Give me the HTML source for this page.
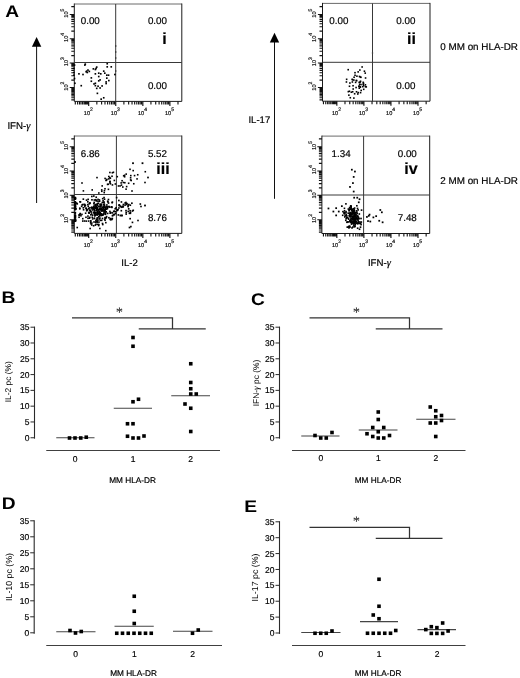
<!DOCTYPE html>
<html lang="en"><head><meta charset="utf-8"><title>Figure</title>
<style>html,body{margin:0;padding:0;background:#fff}svg{display:block;will-change:transform;transform:translateZ(0);-webkit-font-smoothing:antialiased;text-rendering:geometricPrecision}</style>
</head><body>
<svg width="520" height="678" viewBox="0 0 520 678" font-family='"Liberation Sans", Arial, Helvetica, sans-serif'>
<rect width="520" height="678" fill="#fff"/>
<text transform="translate(5.3 17.1) scale(1.17 1.03)" x="0" y="0" font-size="16.4" font-weight="bold" fill="#000">A</text>
<text transform="translate(1.4 303) scale(1.17 1.03)" x="0" y="0" font-size="16.4" font-weight="bold" fill="#000">B</text>
<text transform="translate(251 305.3) scale(1.17 1.03)" x="0" y="0" font-size="16.4" font-weight="bold" fill="#000">C</text>
<text transform="translate(1.7 508.8) scale(1.17 1.03)" x="0" y="0" font-size="16.4" font-weight="bold" fill="#000">D</text>
<text transform="translate(244.3 511.8) scale(1.17 1.03)" x="0" y="0" font-size="16.4" font-weight="bold" fill="#000">E</text>
<line x1="36.6" y1="43" x2="36.6" y2="203" stroke="#111" stroke-width="1.0"/>
<polygon points="36.6,37 31.9,46.8 41.3,46.8" fill="#000"/>
<line x1="274.5" y1="38.7" x2="274.5" y2="198.8" stroke="#111" stroke-width="1.0"/>
<polygon points="274.5,32.7 269.8,42.5 279.2,42.5" fill="#000"/>
<text x="7.4" y="128.8" font-size="9.7" text-anchor="start" font-weight="normal" fill="#000" stroke="#000" stroke-width="0.18">IFN-<tspan font-family="Liberation Serif, serif" font-style="italic" font-size="10.5">γ</tspan></text>
<text x="248.4" y="123.4" font-size="9.6" text-anchor="start" font-weight="normal" fill="#000" stroke="#000" stroke-width="0.18">IL-17</text>
<text x="129.6" y="265.5" font-size="9.6" text-anchor="middle" font-weight="normal" fill="#000" stroke="#000" stroke-width="0.18">IL-2</text>
<text x="379.4" y="265.5" font-size="9.7" text-anchor="middle" font-weight="normal" fill="#000" stroke="#000" stroke-width="0.18">IFN-<tspan font-family="Liberation Serif, serif" font-style="italic" font-size="10.5">γ</tspan></text>
<text x="440.3" y="49.9" font-size="9.85" text-anchor="start" font-weight="normal" fill="#000" stroke="#000" stroke-width="0.18">0 MM on HLA-DR</text>
<text x="440.3" y="183.9" font-size="9.85" text-anchor="start" font-weight="normal" fill="#000" stroke="#000" stroke-width="0.18">2 MM on HLA-DR</text>
<path d="M74.3 4H181.8" stroke="#6a6a6a" stroke-width="1" fill="none"/>
<path d="M74.3 3.5V101.4H181.8V3.5" stroke="#1c1c1c" stroke-width="1" fill="none"/>
<line x1="115.7" y1="4" x2="115.7" y2="101.4" stroke="#383838" stroke-width="1.0"/>
<line x1="74.3" y1="62.5" x2="181.8" y2="62.5" stroke="#383838" stroke-width="1.0"/>
<path d="M88.7 101.4v4.6 M115.75 101.4v4.6 M142.85 101.4v4.6 M169.9 101.4v4.6 M96.84 101.4v3 M101.61 101.4v3 M104.99 101.4v3 M107.61 101.4v3 M109.75 101.4v3 M111.56 101.4v3 M113.13 101.4v3 M114.51 101.4v3 M123.89 101.4v3 M128.66 101.4v3 M132.04 101.4v3 M134.66 101.4v3 M136.8 101.4v3 M138.61 101.4v3 M140.18 101.4v3 M141.56 101.4v3 M150.94 101.4v3 M155.71 101.4v3 M159.09 101.4v3 M161.71 101.4v3 M163.85 101.4v3 M165.66 101.4v3 M167.23 101.4v3 M168.61 101.4v3 M177.99 101.4v3 M87.6 101.4v3 M86.4 101.4v3 M85.3 101.4v3 M84.1 101.4v3 M82.6 101.4v3 M81 101.4v3 M79.5 101.4v3 M77.6 101.4v3 M75.3 101.4v3" stroke="#111" stroke-width="1.12" fill="none"/>
<path d="M74.3 87.5h-4.6 M74.3 63h-4.6 M74.3 38.7h-4.6 M74.3 14.5h-4.6 M74.3 80.12h-3 M74.3 75.81h-3 M74.3 72.75h-3 M74.3 70.38h-3 M74.3 68.44h-3 M74.3 66.8h-3 M74.3 65.37h-3 M74.3 64.12h-3 M74.3 55.62h-3 M74.3 51.31h-3 M74.3 48.25h-3 M74.3 45.88h-3 M74.3 43.94h-3 M74.3 42.3h-3 M74.3 40.87h-3 M74.3 39.62h-3 M74.3 31.12h-3 M74.3 26.81h-3 M74.3 23.75h-3 M74.3 21.38h-3 M74.3 19.44h-3 M74.3 17.8h-3 M74.3 16.37h-3 M74.3 15.12h-3 M74.3 6.62h-3 M74.3 88.51h-3 M74.3 89.62h-3 M74.3 90.63h-3 M74.3 91.73h-3 M74.3 93.11h-3 M74.3 94.58h-3 M74.3 95.96h-3 M74.3 97.71h-3 M74.3 99.83h-3" stroke="#111" stroke-width="1.12" fill="none"/>
<text x="83.8" y="115.3" font-size="5.6" fill="#111" stroke="#111" stroke-width="0.18">10<tspan dy="-4.2" font-size="5.1">2</tspan></text>
<text x="110.85" y="115.3" font-size="5.6" fill="#111" stroke="#111" stroke-width="0.18">10<tspan dy="-4.2" font-size="5.1">3</tspan></text>
<text x="137.95" y="115.3" font-size="5.6" fill="#111" stroke="#111" stroke-width="0.18">10<tspan dy="-4.2" font-size="5.1">4</tspan></text>
<text x="165" y="115.3" font-size="5.6" fill="#111" stroke="#111" stroke-width="0.18">10<tspan dy="-4.2" font-size="5.1">5</tspan></text>
<text x="67.9" y="91" font-size="5.6" fill="#111" stroke="#111" stroke-width="0.18" transform="rotate(-90 67.9 90.7)">10<tspan dy="-4.2" font-size="5.1">2</tspan></text>
<text x="67.9" y="66.5" font-size="5.6" fill="#111" stroke="#111" stroke-width="0.18" transform="rotate(-90 67.9 66.2)">10<tspan dy="-4.2" font-size="5.1">3</tspan></text>
<text x="67.9" y="42.2" font-size="5.6" fill="#111" stroke="#111" stroke-width="0.18" transform="rotate(-90 67.9 41.9)">10<tspan dy="-4.2" font-size="5.1">4</tspan></text>
<text x="67.9" y="18" font-size="5.6" fill="#111" stroke="#111" stroke-width="0.18" transform="rotate(-90 67.9 17.7)">10<tspan dy="-4.2" font-size="5.1">5</tspan></text>
<text x="167" y="23.8" font-size="9.8" text-anchor="end" font-weight="normal" fill="#000" stroke="#000" stroke-width="0.18">0.00</text>
<text x="167" y="88.8" font-size="9.8" text-anchor="end" font-weight="normal" fill="#000" stroke="#000" stroke-width="0.18">0.00</text>
<text x="99.8" y="23.8" font-size="9.8" text-anchor="end" font-weight="normal" fill="#000" stroke="#000" stroke-width="0.18">0.00</text>
<text x="166.7" y="43.8" font-size="16" text-anchor="end" font-weight="bold" fill="#000" stroke="#000" stroke-width="0.18">i</text>
<path d="M74.3 136H181.8" stroke="#6a6a6a" stroke-width="1" fill="none"/>
<path d="M74.3 135.5V233.4H181.8V135.5" stroke="#1c1c1c" stroke-width="1" fill="none"/>
<line x1="116.4" y1="136" x2="116.4" y2="233.4" stroke="#383838" stroke-width="1.0"/>
<line x1="74.3" y1="194.5" x2="181.8" y2="194.5" stroke="#383838" stroke-width="1.0"/>
<path d="M88.7 233.4v4.6 M115.75 233.4v4.6 M142.85 233.4v4.6 M169.9 233.4v4.6 M96.84 233.4v3 M101.61 233.4v3 M104.99 233.4v3 M107.61 233.4v3 M109.75 233.4v3 M111.56 233.4v3 M113.13 233.4v3 M114.51 233.4v3 M123.89 233.4v3 M128.66 233.4v3 M132.04 233.4v3 M134.66 233.4v3 M136.8 233.4v3 M138.61 233.4v3 M140.18 233.4v3 M141.56 233.4v3 M150.94 233.4v3 M155.71 233.4v3 M159.09 233.4v3 M161.71 233.4v3 M163.85 233.4v3 M165.66 233.4v3 M167.23 233.4v3 M168.61 233.4v3 M177.99 233.4v3 M87.6 233.4v3 M86.4 233.4v3 M85.3 233.4v3 M84.1 233.4v3 M82.6 233.4v3 M81 233.4v3 M79.5 233.4v3 M77.6 233.4v3 M75.3 233.4v3" stroke="#111" stroke-width="1.12" fill="none"/>
<path d="M74.3 219.8h-4.6 M74.3 195.3h-4.6 M74.3 171h-4.6 M74.3 146.8h-4.6 M74.3 212.42h-3 M74.3 208.11h-3 M74.3 205.05h-3 M74.3 202.68h-3 M74.3 200.74h-3 M74.3 199.1h-3 M74.3 197.67h-3 M74.3 196.42h-3 M74.3 187.92h-3 M74.3 183.61h-3 M74.3 180.55h-3 M74.3 178.18h-3 M74.3 176.24h-3 M74.3 174.6h-3 M74.3 173.17h-3 M74.3 171.92h-3 M74.3 163.42h-3 M74.3 159.11h-3 M74.3 156.05h-3 M74.3 153.68h-3 M74.3 151.74h-3 M74.3 150.1h-3 M74.3 148.67h-3 M74.3 147.42h-3 M74.3 138.92h-3 M74.3 220.81h-3 M74.3 221.92h-3 M74.3 222.93h-3 M74.3 224.03h-3 M74.3 225.41h-3 M74.3 226.88h-3 M74.3 228.26h-3 M74.3 230.01h-3 M74.3 232.13h-3" stroke="#111" stroke-width="1.12" fill="none"/>
<text x="83.8" y="247.3" font-size="5.6" fill="#111" stroke="#111" stroke-width="0.18">10<tspan dy="-4.2" font-size="5.1">2</tspan></text>
<text x="110.85" y="247.3" font-size="5.6" fill="#111" stroke="#111" stroke-width="0.18">10<tspan dy="-4.2" font-size="5.1">3</tspan></text>
<text x="137.95" y="247.3" font-size="5.6" fill="#111" stroke="#111" stroke-width="0.18">10<tspan dy="-4.2" font-size="5.1">4</tspan></text>
<text x="165" y="247.3" font-size="5.6" fill="#111" stroke="#111" stroke-width="0.18">10<tspan dy="-4.2" font-size="5.1">5</tspan></text>
<text x="67.9" y="223.3" font-size="5.6" fill="#111" stroke="#111" stroke-width="0.18" transform="rotate(-90 67.9 223)">10<tspan dy="-4.2" font-size="5.1">2</tspan></text>
<text x="67.9" y="198.8" font-size="5.6" fill="#111" stroke="#111" stroke-width="0.18" transform="rotate(-90 67.9 198.5)">10<tspan dy="-4.2" font-size="5.1">3</tspan></text>
<text x="67.9" y="174.5" font-size="5.6" fill="#111" stroke="#111" stroke-width="0.18" transform="rotate(-90 67.9 174.2)">10<tspan dy="-4.2" font-size="5.1">4</tspan></text>
<text x="67.9" y="150.3" font-size="5.6" fill="#111" stroke="#111" stroke-width="0.18" transform="rotate(-90 67.9 150)">10<tspan dy="-4.2" font-size="5.1">5</tspan></text>
<text x="167" y="157" font-size="9.8" text-anchor="end" font-weight="normal" fill="#000" stroke="#000" stroke-width="0.18">5.52</text>
<text x="167" y="221.4" font-size="9.8" text-anchor="end" font-weight="normal" fill="#000" stroke="#000" stroke-width="0.18">8.76</text>
<text x="99.8" y="157" font-size="9.8" text-anchor="end" font-weight="normal" fill="#000" stroke="#000" stroke-width="0.18">6.86</text>
<text x="169.7" y="174.1" font-size="16" text-anchor="end" font-weight="bold" fill="#000" stroke="#000" stroke-width="0.18">iii</text>
<path d="M322.5 3.4H430" stroke="#6a6a6a" stroke-width="1" fill="none"/>
<path d="M322.5 2.9V101.2H430V2.9" stroke="#1c1c1c" stroke-width="1" fill="none"/>
<line x1="372.5" y1="3.4" x2="372.5" y2="101.2" stroke="#383838" stroke-width="1.0"/>
<line x1="322.5" y1="62.3" x2="430" y2="62.3" stroke="#383838" stroke-width="1.0"/>
<path d="M336.85 101.2v4.6 M363.9 101.2v4.6 M390.95 101.2v4.6 M418 101.2v4.6 M344.99 101.2v3 M349.76 101.2v3 M353.14 101.2v3 M355.76 101.2v3 M357.9 101.2v3 M359.71 101.2v3 M361.28 101.2v3 M362.66 101.2v3 M372.04 101.2v3 M376.81 101.2v3 M380.19 101.2v3 M382.81 101.2v3 M384.95 101.2v3 M386.76 101.2v3 M388.33 101.2v3 M389.71 101.2v3 M399.09 101.2v3 M403.86 101.2v3 M407.24 101.2v3 M409.86 101.2v3 M412 101.2v3 M413.81 101.2v3 M415.38 101.2v3 M416.76 101.2v3 M426.14 101.2v3 M335.75 101.2v3 M334.55 101.2v3 M333.45 101.2v3 M332.25 101.2v3 M330.75 101.2v3 M329.15 101.2v3 M327.65 101.2v3 M325.75 101.2v3 M323.45 101.2v3" stroke="#111" stroke-width="1.12" fill="none"/>
<path d="M322.5 87.5h-4.6 M322.5 63h-4.6 M322.5 38.7h-4.6 M322.5 14.5h-4.6 M322.5 80.12h-3 M322.5 75.81h-3 M322.5 72.75h-3 M322.5 70.38h-3 M322.5 68.44h-3 M322.5 66.8h-3 M322.5 65.37h-3 M322.5 64.12h-3 M322.5 55.62h-3 M322.5 51.31h-3 M322.5 48.25h-3 M322.5 45.88h-3 M322.5 43.94h-3 M322.5 42.3h-3 M322.5 40.87h-3 M322.5 39.62h-3 M322.5 31.12h-3 M322.5 26.81h-3 M322.5 23.75h-3 M322.5 21.38h-3 M322.5 19.44h-3 M322.5 17.8h-3 M322.5 16.37h-3 M322.5 15.12h-3 M322.5 6.62h-3 M322.5 88.51h-3 M322.5 89.62h-3 M322.5 90.63h-3 M322.5 91.73h-3 M322.5 93.11h-3 M322.5 94.58h-3 M322.5 95.96h-3 M322.5 97.71h-3 M322.5 99.83h-3" stroke="#111" stroke-width="1.12" fill="none"/>
<text x="331.95" y="115.1" font-size="5.6" fill="#111" stroke="#111" stroke-width="0.18">10<tspan dy="-4.2" font-size="5.1">2</tspan></text>
<text x="359" y="115.1" font-size="5.6" fill="#111" stroke="#111" stroke-width="0.18">10<tspan dy="-4.2" font-size="5.1">3</tspan></text>
<text x="386.05" y="115.1" font-size="5.6" fill="#111" stroke="#111" stroke-width="0.18">10<tspan dy="-4.2" font-size="5.1">4</tspan></text>
<text x="413.1" y="115.1" font-size="5.6" fill="#111" stroke="#111" stroke-width="0.18">10<tspan dy="-4.2" font-size="5.1">5</tspan></text>
<text x="316.1" y="91" font-size="5.6" fill="#111" stroke="#111" stroke-width="0.18" transform="rotate(-90 316.1 90.7)">10<tspan dy="-4.2" font-size="5.1">2</tspan></text>
<text x="316.1" y="66.5" font-size="5.6" fill="#111" stroke="#111" stroke-width="0.18" transform="rotate(-90 316.1 66.2)">10<tspan dy="-4.2" font-size="5.1">3</tspan></text>
<text x="316.1" y="42.2" font-size="5.6" fill="#111" stroke="#111" stroke-width="0.18" transform="rotate(-90 316.1 41.9)">10<tspan dy="-4.2" font-size="5.1">4</tspan></text>
<text x="316.1" y="18" font-size="5.6" fill="#111" stroke="#111" stroke-width="0.18" transform="rotate(-90 316.1 17.7)">10<tspan dy="-4.2" font-size="5.1">5</tspan></text>
<text x="415.4" y="24" font-size="9.8" text-anchor="end" font-weight="normal" fill="#000" stroke="#000" stroke-width="0.18">0.00</text>
<text x="415.4" y="88.8" font-size="9.8" text-anchor="end" font-weight="normal" fill="#000" stroke="#000" stroke-width="0.18">0.00</text>
<text x="348.4" y="24" font-size="9.8" text-anchor="end" font-weight="normal" fill="#000" stroke="#000" stroke-width="0.18">0.00</text>
<text x="416" y="44.2" font-size="16" text-anchor="end" font-weight="bold" fill="#000" stroke="#000" stroke-width="0.18">ii</text>
<path d="M321.9 136.1H429.7" stroke="#6a6a6a" stroke-width="1" fill="none"/>
<path d="M321.9 135.6V233.5H429.7V135.6" stroke="#1c1c1c" stroke-width="1" fill="none"/>
<line x1="363.6" y1="136.1" x2="363.6" y2="233.5" stroke="#383838" stroke-width="1.0"/>
<line x1="321.9" y1="195" x2="429.7" y2="195" stroke="#383838" stroke-width="1.0"/>
<path d="M336.85 233.5v4.6 M363.9 233.5v4.6 M390.95 233.5v4.6 M418 233.5v4.6 M344.99 233.5v3 M349.76 233.5v3 M353.14 233.5v3 M355.76 233.5v3 M357.9 233.5v3 M359.71 233.5v3 M361.28 233.5v3 M362.66 233.5v3 M372.04 233.5v3 M376.81 233.5v3 M380.19 233.5v3 M382.81 233.5v3 M384.95 233.5v3 M386.76 233.5v3 M388.33 233.5v3 M389.71 233.5v3 M399.09 233.5v3 M403.86 233.5v3 M407.24 233.5v3 M409.86 233.5v3 M412 233.5v3 M413.81 233.5v3 M415.38 233.5v3 M416.76 233.5v3 M426.14 233.5v3 M335.75 233.5v3 M334.55 233.5v3 M333.45 233.5v3 M332.25 233.5v3 M330.75 233.5v3 M329.15 233.5v3 M327.65 233.5v3 M325.75 233.5v3 M323.45 233.5v3" stroke="#111" stroke-width="1.12" fill="none"/>
<path d="M321.9 219.8h-4.6 M321.9 195.3h-4.6 M321.9 171h-4.6 M321.9 146.8h-4.6 M321.9 212.42h-3 M321.9 208.11h-3 M321.9 205.05h-3 M321.9 202.68h-3 M321.9 200.74h-3 M321.9 199.1h-3 M321.9 197.67h-3 M321.9 196.42h-3 M321.9 187.92h-3 M321.9 183.61h-3 M321.9 180.55h-3 M321.9 178.18h-3 M321.9 176.24h-3 M321.9 174.6h-3 M321.9 173.17h-3 M321.9 171.92h-3 M321.9 163.42h-3 M321.9 159.11h-3 M321.9 156.05h-3 M321.9 153.68h-3 M321.9 151.74h-3 M321.9 150.1h-3 M321.9 148.67h-3 M321.9 147.42h-3 M321.9 138.92h-3 M321.9 220.81h-3 M321.9 221.92h-3 M321.9 222.93h-3 M321.9 224.03h-3 M321.9 225.41h-3 M321.9 226.88h-3 M321.9 228.26h-3 M321.9 230.01h-3 M321.9 232.13h-3" stroke="#111" stroke-width="1.12" fill="none"/>
<text x="331.95" y="247.4" font-size="5.6" fill="#111" stroke="#111" stroke-width="0.18">10<tspan dy="-4.2" font-size="5.1">2</tspan></text>
<text x="359" y="247.4" font-size="5.6" fill="#111" stroke="#111" stroke-width="0.18">10<tspan dy="-4.2" font-size="5.1">3</tspan></text>
<text x="386.05" y="247.4" font-size="5.6" fill="#111" stroke="#111" stroke-width="0.18">10<tspan dy="-4.2" font-size="5.1">4</tspan></text>
<text x="413.1" y="247.4" font-size="5.6" fill="#111" stroke="#111" stroke-width="0.18">10<tspan dy="-4.2" font-size="5.1">5</tspan></text>
<text x="315.5" y="223.3" font-size="5.6" fill="#111" stroke="#111" stroke-width="0.18" transform="rotate(-90 315.5 223)">10<tspan dy="-4.2" font-size="5.1">2</tspan></text>
<text x="315.5" y="198.8" font-size="5.6" fill="#111" stroke="#111" stroke-width="0.18" transform="rotate(-90 315.5 198.5)">10<tspan dy="-4.2" font-size="5.1">3</tspan></text>
<text x="315.5" y="174.5" font-size="5.6" fill="#111" stroke="#111" stroke-width="0.18" transform="rotate(-90 315.5 174.2)">10<tspan dy="-4.2" font-size="5.1">4</tspan></text>
<text x="315.5" y="150.3" font-size="5.6" fill="#111" stroke="#111" stroke-width="0.18" transform="rotate(-90 315.5 150)">10<tspan dy="-4.2" font-size="5.1">5</tspan></text>
<text x="416.8" y="156.8" font-size="9.8" text-anchor="end" font-weight="normal" fill="#000" stroke="#000" stroke-width="0.18">0.00</text>
<text x="416.8" y="221.2" font-size="9.8" text-anchor="end" font-weight="normal" fill="#000" stroke="#000" stroke-width="0.18">7.48</text>
<text x="350.6" y="157" font-size="9.8" text-anchor="end" font-weight="normal" fill="#000" stroke="#000" stroke-width="0.18">1.34</text>
<text x="417.6" y="174.3" font-size="16" text-anchor="end" font-weight="bold" fill="#000" stroke="#000" stroke-width="0.18">iv</text>
<rect x="84.46" y="63.33" width="1.6500000000000001" height="1.6500000000000001" fill="#000"/>
<rect x="84.05" y="64.27" width="1.6500000000000001" height="1.6500000000000001" fill="#000"/>
<rect x="106.4" y="62.92" width="1.6500000000000001" height="1.6500000000000001" fill="#000"/>
<rect x="106.4" y="66.02" width="1.6500000000000001" height="1.6500000000000001" fill="#000"/>
<rect x="110.43" y="66.02" width="1.6500000000000001" height="1.6500000000000001" fill="#000"/>
<rect x="95.9" y="66.29" width="1.6500000000000001" height="1.6500000000000001" fill="#000"/>
<rect x="95.22" y="67.63" width="1.6500000000000001" height="1.6500000000000001" fill="#000"/>
<rect x="92.53" y="68.04" width="1.6500000000000001" height="1.6500000000000001" fill="#000"/>
<rect x="94.55" y="68.71" width="1.6500000000000001" height="1.6500000000000001" fill="#000"/>
<rect x="87.15" y="69.25" width="1.6500000000000001" height="1.6500000000000001" fill="#000"/>
<rect x="85.8" y="70.33" width="1.6500000000000001" height="1.6500000000000001" fill="#000"/>
<rect x="88.5" y="70.59" width="1.6500000000000001" height="1.6500000000000001" fill="#000"/>
<rect x="86.48" y="71.67" width="1.6500000000000001" height="1.6500000000000001" fill="#000"/>
<rect x="85.4" y="71" width="1.6500000000000001" height="1.6500000000000001" fill="#000"/>
<rect x="78.13" y="73.02" width="1.6500000000000001" height="1.6500000000000001" fill="#000"/>
<rect x="82.17" y="73.69" width="1.6500000000000001" height="1.6500000000000001" fill="#000"/>
<rect x="94.55" y="73.02" width="1.6500000000000001" height="1.6500000000000001" fill="#000"/>
<rect x="97.92" y="72.34" width="1.6500000000000001" height="1.6500000000000001" fill="#000"/>
<rect x="99.94" y="73.02" width="1.6500000000000001" height="1.6500000000000001" fill="#000"/>
<rect x="102.9" y="70.33" width="1.6500000000000001" height="1.6500000000000001" fill="#000"/>
<rect x="103.97" y="72.34" width="1.6500000000000001" height="1.6500000000000001" fill="#000"/>
<rect x="105.99" y="74.36" width="1.6500000000000001" height="1.6500000000000001" fill="#000"/>
<rect x="107.74" y="74.36" width="1.6500000000000001" height="1.6500000000000001" fill="#000"/>
<rect x="114.07" y="73.69" width="1.6500000000000001" height="1.6500000000000001" fill="#000"/>
<rect x="90.51" y="77.06" width="1.6500000000000001" height="1.6500000000000001" fill="#000"/>
<rect x="97.92" y="75.71" width="1.6500000000000001" height="1.6500000000000001" fill="#000"/>
<rect x="105.99" y="77.32" width="1.6500000000000001" height="1.6500000000000001" fill="#000"/>
<rect x="90.51" y="80.42" width="1.6500000000000001" height="1.6500000000000001" fill="#000"/>
<rect x="99.26" y="79.07" width="1.6500000000000001" height="1.6500000000000001" fill="#000"/>
<rect x="97.92" y="80.02" width="1.6500000000000001" height="1.6500000000000001" fill="#000"/>
<rect x="108.01" y="79.75" width="1.6500000000000001" height="1.6500000000000001" fill="#000"/>
<rect x="105.32" y="81.09" width="1.6500000000000001" height="1.6500000000000001" fill="#000"/>
<rect x="94.55" y="82.44" width="1.6500000000000001" height="1.6500000000000001" fill="#000"/>
<rect x="93.21" y="83.11" width="1.6500000000000001" height="1.6500000000000001" fill="#000"/>
<rect x="105.32" y="82.71" width="1.6500000000000001" height="1.6500000000000001" fill="#000"/>
<rect x="80.42" y="84.86" width="1.6500000000000001" height="1.6500000000000001" fill="#000"/>
<rect x="94.55" y="84.86" width="1.6500000000000001" height="1.6500000000000001" fill="#000"/>
<rect x="97.24" y="85.4" width="1.6500000000000001" height="1.6500000000000001" fill="#000"/>
<rect x="101.28" y="85.13" width="1.6500000000000001" height="1.6500000000000001" fill="#000"/>
<rect x="95.9" y="87.55" width="1.6500000000000001" height="1.6500000000000001" fill="#000"/>
<rect x="99.26" y="87.15" width="1.6500000000000001" height="1.6500000000000001" fill="#000"/>
<rect x="96.57" y="92.53" width="1.6500000000000001" height="1.6500000000000001" fill="#000"/>
<rect x="102.9" y="96.97" width="1.6500000000000001" height="1.6500000000000001" fill="#000"/>
<rect x="100.34" y="98.32" width="1.6500000000000001" height="1.6500000000000001" fill="#000"/>
<rect x="73.69" y="64.27" width="1.6500000000000001" height="1.6500000000000001" fill="#000"/>
<rect x="73.02" y="67.63" width="1.6500000000000001" height="1.6500000000000001" fill="#000"/>
<rect x="73.02" y="71.67" width="1.6500000000000001" height="1.6500000000000001" fill="#000"/>
<rect x="73.02" y="74.36" width="1.6500000000000001" height="1.6500000000000001" fill="#000"/>
<rect x="73.69" y="77.73" width="1.6500000000000001" height="1.6500000000000001" fill="#000"/>
<rect x="74.09" y="82.44" width="1.6500000000000001" height="1.6500000000000001" fill="#000"/>
<rect x="115" y="45.3" width="1.4000000000000001" height="1.4000000000000001" fill="#333"/>
<rect x="115" y="51.3" width="1.4000000000000001" height="1.4000000000000001" fill="#333"/>
<rect x="115" y="57.3" width="1.4000000000000001" height="1.4000000000000001" fill="#333"/>
<rect x="115" y="70.3" width="1.4000000000000001" height="1.4000000000000001" fill="#333"/>
<rect x="355.29" y="86.74" width="1.6" height="1.6" fill="#000"/>
<rect x="355.46" y="79.73" width="1.6" height="1.6" fill="#000"/>
<rect x="351.58" y="81.19" width="1.6" height="1.6" fill="#000"/>
<rect x="362.82" y="84.84" width="1.6" height="1.6" fill="#000"/>
<rect x="362.4" y="83.42" width="1.6" height="1.6" fill="#000"/>
<rect x="358.87" y="83.43" width="1.6" height="1.6" fill="#000"/>
<rect x="347.54" y="90.85" width="1.6" height="1.6" fill="#000"/>
<rect x="359.49" y="85.99" width="1.6" height="1.6" fill="#000"/>
<rect x="347.4" y="68.89" width="1.6" height="1.6" fill="#000"/>
<rect x="351.81" y="79" width="1.6" height="1.6" fill="#000"/>
<rect x="358.38" y="81.55" width="1.6" height="1.6" fill="#000"/>
<rect x="359.57" y="76.33" width="1.6" height="1.6" fill="#000"/>
<rect x="358.4" y="85.27" width="1.6" height="1.6" fill="#000"/>
<rect x="353.06" y="97.29" width="1.6" height="1.6" fill="#000"/>
<rect x="359.76" y="91.85" width="1.6" height="1.6" fill="#000"/>
<rect x="353.29" y="76.47" width="1.6" height="1.6" fill="#000"/>
<rect x="354.81" y="81.59" width="1.6" height="1.6" fill="#000"/>
<rect x="360.18" y="83.76" width="1.6" height="1.6" fill="#000"/>
<rect x="354.24" y="74.49" width="1.6" height="1.6" fill="#000"/>
<rect x="353.84" y="92.97" width="1.6" height="1.6" fill="#000"/>
<rect x="352.26" y="84.96" width="1.6" height="1.6" fill="#000"/>
<rect x="359.05" y="69.24" width="1.6" height="1.6" fill="#000"/>
<rect x="356.97" y="93.21" width="1.6" height="1.6" fill="#000"/>
<rect x="345.62" y="81.19" width="1.6" height="1.6" fill="#000"/>
<rect x="356.12" y="75.38" width="1.6" height="1.6" fill="#000"/>
<rect x="359.44" y="81.25" width="1.6" height="1.6" fill="#000"/>
<rect x="348.64" y="90.45" width="1.6" height="1.6" fill="#000"/>
<rect x="360.38" y="89.63" width="1.6" height="1.6" fill="#000"/>
<rect x="364.62" y="84.04" width="1.6" height="1.6" fill="#000"/>
<rect x="357.36" y="71.11" width="1.6" height="1.6" fill="#000"/>
<rect x="360.08" y="76.5" width="1.6" height="1.6" fill="#000"/>
<rect x="354.21" y="71.89" width="1.6" height="1.6" fill="#000"/>
<rect x="351.38" y="78.53" width="1.6" height="1.6" fill="#000"/>
<rect x="348.68" y="85.46" width="1.6" height="1.6" fill="#000"/>
<rect x="364.64" y="85.87" width="1.6" height="1.6" fill="#000"/>
<rect x="358.67" y="75.67" width="1.6" height="1.6" fill="#000"/>
<rect x="350.54" y="91.42" width="1.6" height="1.6" fill="#000"/>
<rect x="362.76" y="82.59" width="1.6" height="1.6" fill="#000"/>
<rect x="358.05" y="85.66" width="1.6" height="1.6" fill="#000"/>
<rect x="365.47" y="86.08" width="1.6" height="1.6" fill="#000"/>
<rect x="359.55" y="86.39" width="1.6" height="1.6" fill="#000"/>
<rect x="348.07" y="94.37" width="1.6" height="1.6" fill="#000"/>
<rect x="361.95" y="85.87" width="1.6" height="1.6" fill="#000"/>
<rect x="345.84" y="78.52" width="1.6" height="1.6" fill="#000"/>
<rect x="361.33" y="66.17" width="1.6" height="1.6" fill="#000"/>
<rect x="355.69" y="90.98" width="1.6" height="1.6" fill="#000"/>
<rect x="349.49" y="96.93" width="1.6" height="1.6" fill="#000"/>
<rect x="359.74" y="80.46" width="1.6" height="1.6" fill="#000"/>
<rect x="358.49" y="87.42" width="1.6" height="1.6" fill="#000"/>
<rect x="357.36" y="91.79" width="1.6" height="1.6" fill="#000"/>
<rect x="353.06" y="79.25" width="1.6" height="1.6" fill="#000"/>
<rect x="362.43" y="81.54" width="1.6" height="1.6" fill="#000"/>
<rect x="351.86" y="90.95" width="1.6" height="1.6" fill="#000"/>
<rect x="364.76" y="77.19" width="1.6" height="1.6" fill="#000"/>
<rect x="349.11" y="82.23" width="1.6" height="1.6" fill="#000"/>
<rect x="355.88" y="79.81" width="1.6" height="1.6" fill="#000"/>
<rect x="364.43" y="72.32" width="1.6" height="1.6" fill="#000"/>
<rect x="363.63" y="70.4" width="1.6" height="1.6" fill="#000"/>
<rect x="352.37" y="88.21" width="1.6" height="1.6" fill="#000"/>
<rect x="362.91" y="88.51" width="1.6" height="1.6" fill="#000"/>
<rect x="371.85" y="52.35" width="1.3" height="1.3" fill="#444"/>
<rect x="100.49" y="208.56" width="1.6500000000000001" height="1.6500000000000001" fill="#000"/>
<rect x="98.64" y="211.24" width="1.6500000000000001" height="1.6500000000000001" fill="#000"/>
<rect x="95.48" y="209.4" width="1.6500000000000001" height="1.6500000000000001" fill="#000"/>
<rect x="102.67" y="207.68" width="1.6500000000000001" height="1.6500000000000001" fill="#000"/>
<rect x="104.51" y="211.18" width="1.6500000000000001" height="1.6500000000000001" fill="#000"/>
<rect x="116.48" y="209.69" width="1.6500000000000001" height="1.6500000000000001" fill="#000"/>
<rect x="93.07" y="205.37" width="1.6500000000000001" height="1.6500000000000001" fill="#000"/>
<rect x="97.05" y="213.4" width="1.6500000000000001" height="1.6500000000000001" fill="#000"/>
<rect x="93.94" y="210.07" width="1.6500000000000001" height="1.6500000000000001" fill="#000"/>
<rect x="86.39" y="209.19" width="1.6500000000000001" height="1.6500000000000001" fill="#000"/>
<rect x="101" y="209.15" width="1.6500000000000001" height="1.6500000000000001" fill="#000"/>
<rect x="93.04" y="211.74" width="1.6500000000000001" height="1.6500000000000001" fill="#000"/>
<rect x="99.88" y="204.44" width="1.6500000000000001" height="1.6500000000000001" fill="#000"/>
<rect x="120.5" y="209.88" width="1.6500000000000001" height="1.6500000000000001" fill="#000"/>
<rect x="91.85" y="207.06" width="1.6500000000000001" height="1.6500000000000001" fill="#000"/>
<rect x="95.01" y="207.29" width="1.6500000000000001" height="1.6500000000000001" fill="#000"/>
<rect x="106.86" y="200.43" width="1.6500000000000001" height="1.6500000000000001" fill="#000"/>
<rect x="96.53" y="213.59" width="1.6500000000000001" height="1.6500000000000001" fill="#000"/>
<rect x="105.39" y="216.92" width="1.6500000000000001" height="1.6500000000000001" fill="#000"/>
<rect x="80.84" y="205.48" width="1.6500000000000001" height="1.6500000000000001" fill="#000"/>
<rect x="93.9" y="211.54" width="1.6500000000000001" height="1.6500000000000001" fill="#000"/>
<rect x="107.63" y="198.7" width="1.6500000000000001" height="1.6500000000000001" fill="#000"/>
<rect x="103.73" y="198.42" width="1.6500000000000001" height="1.6500000000000001" fill="#000"/>
<rect x="98.86" y="215.08" width="1.6500000000000001" height="1.6500000000000001" fill="#000"/>
<rect x="95.74" y="208.86" width="1.6500000000000001" height="1.6500000000000001" fill="#000"/>
<rect x="104.83" y="208.55" width="1.6500000000000001" height="1.6500000000000001" fill="#000"/>
<rect x="96.33" y="217.18" width="1.6500000000000001" height="1.6500000000000001" fill="#000"/>
<rect x="107.24" y="205.85" width="1.6500000000000001" height="1.6500000000000001" fill="#000"/>
<rect x="105.96" y="206.03" width="1.6500000000000001" height="1.6500000000000001" fill="#000"/>
<rect x="98.45" y="212.05" width="1.6500000000000001" height="1.6500000000000001" fill="#000"/>
<rect x="99.31" y="211.63" width="1.6500000000000001" height="1.6500000000000001" fill="#000"/>
<rect x="82.51" y="198.32" width="1.6500000000000001" height="1.6500000000000001" fill="#000"/>
<rect x="103.08" y="201.7" width="1.6500000000000001" height="1.6500000000000001" fill="#000"/>
<rect x="87.32" y="198.56" width="1.6500000000000001" height="1.6500000000000001" fill="#000"/>
<rect x="109.33" y="212.3" width="1.6500000000000001" height="1.6500000000000001" fill="#000"/>
<rect x="111.32" y="201.86" width="1.6500000000000001" height="1.6500000000000001" fill="#000"/>
<rect x="97.18" y="200.61" width="1.6500000000000001" height="1.6500000000000001" fill="#000"/>
<rect x="104.53" y="217.53" width="1.6500000000000001" height="1.6500000000000001" fill="#000"/>
<rect x="88.63" y="217.35" width="1.6500000000000001" height="1.6500000000000001" fill="#000"/>
<rect x="106.66" y="206.57" width="1.6500000000000001" height="1.6500000000000001" fill="#000"/>
<rect x="78.24" y="216.4" width="1.6500000000000001" height="1.6500000000000001" fill="#000"/>
<rect x="96.25" y="203.94" width="1.6500000000000001" height="1.6500000000000001" fill="#000"/>
<rect x="101.01" y="210.22" width="1.6500000000000001" height="1.6500000000000001" fill="#000"/>
<rect x="111.56" y="201.35" width="1.6500000000000001" height="1.6500000000000001" fill="#000"/>
<rect x="108.08" y="216.9" width="1.6500000000000001" height="1.6500000000000001" fill="#000"/>
<rect x="111.12" y="206.56" width="1.6500000000000001" height="1.6500000000000001" fill="#000"/>
<rect x="90.03" y="213.99" width="1.6500000000000001" height="1.6500000000000001" fill="#000"/>
<rect x="98.28" y="208.44" width="1.6500000000000001" height="1.6500000000000001" fill="#000"/>
<rect x="110.85" y="206.04" width="1.6500000000000001" height="1.6500000000000001" fill="#000"/>
<rect x="79.38" y="212.75" width="1.6500000000000001" height="1.6500000000000001" fill="#000"/>
<rect x="100.22" y="203.89" width="1.6500000000000001" height="1.6500000000000001" fill="#000"/>
<rect x="97.08" y="212.84" width="1.6500000000000001" height="1.6500000000000001" fill="#000"/>
<rect x="97.93" y="215.9" width="1.6500000000000001" height="1.6500000000000001" fill="#000"/>
<rect x="96.59" y="214.13" width="1.6500000000000001" height="1.6500000000000001" fill="#000"/>
<rect x="111.49" y="217.66" width="1.6500000000000001" height="1.6500000000000001" fill="#000"/>
<rect x="90.73" y="213.13" width="1.6500000000000001" height="1.6500000000000001" fill="#000"/>
<rect x="79.17" y="200.96" width="1.6500000000000001" height="1.6500000000000001" fill="#000"/>
<rect x="78.33" y="214.3" width="1.6500000000000001" height="1.6500000000000001" fill="#000"/>
<rect x="85.35" y="207.6" width="1.6500000000000001" height="1.6500000000000001" fill="#000"/>
<rect x="95.33" y="207.5" width="1.6500000000000001" height="1.6500000000000001" fill="#000"/>
<rect x="91.5" y="209.12" width="1.6500000000000001" height="1.6500000000000001" fill="#000"/>
<rect x="114.37" y="207.95" width="1.6500000000000001" height="1.6500000000000001" fill="#000"/>
<rect x="102.27" y="213.88" width="1.6500000000000001" height="1.6500000000000001" fill="#000"/>
<rect x="95.27" y="199.86" width="1.6500000000000001" height="1.6500000000000001" fill="#000"/>
<rect x="91.84" y="214.33" width="1.6500000000000001" height="1.6500000000000001" fill="#000"/>
<rect x="81.37" y="203.97" width="1.6500000000000001" height="1.6500000000000001" fill="#000"/>
<rect x="106.85" y="212.59" width="1.6500000000000001" height="1.6500000000000001" fill="#000"/>
<rect x="97.25" y="212.67" width="1.6500000000000001" height="1.6500000000000001" fill="#000"/>
<rect x="98.77" y="200.37" width="1.6500000000000001" height="1.6500000000000001" fill="#000"/>
<rect x="82.16" y="203.71" width="1.6500000000000001" height="1.6500000000000001" fill="#000"/>
<rect x="106.03" y="204.17" width="1.6500000000000001" height="1.6500000000000001" fill="#000"/>
<rect x="88.51" y="202.9" width="1.6500000000000001" height="1.6500000000000001" fill="#000"/>
<rect x="82.47" y="206.95" width="1.6500000000000001" height="1.6500000000000001" fill="#000"/>
<rect x="85.85" y="209.93" width="1.6500000000000001" height="1.6500000000000001" fill="#000"/>
<rect x="91.02" y="195.63" width="1.6500000000000001" height="1.6500000000000001" fill="#000"/>
<rect x="104.13" y="205.97" width="1.6500000000000001" height="1.6500000000000001" fill="#000"/>
<rect x="75.77" y="202.25" width="1.6500000000000001" height="1.6500000000000001" fill="#000"/>
<rect x="99.97" y="204.83" width="1.6500000000000001" height="1.6500000000000001" fill="#000"/>
<rect x="104.66" y="212.31" width="1.6500000000000001" height="1.6500000000000001" fill="#000"/>
<rect x="103.57" y="209.7" width="1.6500000000000001" height="1.6500000000000001" fill="#000"/>
<rect x="109.98" y="211.77" width="1.6500000000000001" height="1.6500000000000001" fill="#000"/>
<rect x="105.78" y="215.79" width="1.6500000000000001" height="1.6500000000000001" fill="#000"/>
<rect x="94.32" y="204.76" width="1.6500000000000001" height="1.6500000000000001" fill="#000"/>
<rect x="115.8" y="196.77" width="1.6500000000000001" height="1.6500000000000001" fill="#000"/>
<rect x="101.68" y="222.7" width="1.6500000000000001" height="1.6500000000000001" fill="#000"/>
<rect x="88.27" y="211.95" width="1.6500000000000001" height="1.6500000000000001" fill="#000"/>
<rect x="115.28" y="206.93" width="1.6500000000000001" height="1.6500000000000001" fill="#000"/>
<rect x="102.56" y="213.27" width="1.6500000000000001" height="1.6500000000000001" fill="#000"/>
<rect x="88.48" y="207.12" width="1.6500000000000001" height="1.6500000000000001" fill="#000"/>
<rect x="99.99" y="212.79" width="1.6500000000000001" height="1.6500000000000001" fill="#000"/>
<rect x="96.84" y="206.46" width="1.6500000000000001" height="1.6500000000000001" fill="#000"/>
<rect x="87.42" y="205.45" width="1.6500000000000001" height="1.6500000000000001" fill="#000"/>
<rect x="105.74" y="208.31" width="1.6500000000000001" height="1.6500000000000001" fill="#000"/>
<rect x="88.99" y="202.46" width="1.6500000000000001" height="1.6500000000000001" fill="#000"/>
<rect x="103.14" y="210.66" width="1.6500000000000001" height="1.6500000000000001" fill="#000"/>
<rect x="113.34" y="210.33" width="1.6500000000000001" height="1.6500000000000001" fill="#000"/>
<rect x="96.53" y="210.91" width="1.6500000000000001" height="1.6500000000000001" fill="#000"/>
<rect x="78.51" y="214.08" width="1.6500000000000001" height="1.6500000000000001" fill="#000"/>
<rect x="100.29" y="203.32" width="1.6500000000000001" height="1.6500000000000001" fill="#000"/>
<rect x="109.9" y="218.89" width="1.6500000000000001" height="1.6500000000000001" fill="#000"/>
<rect x="83.71" y="203.54" width="1.6500000000000001" height="1.6500000000000001" fill="#000"/>
<rect x="99.97" y="208.81" width="1.6500000000000001" height="1.6500000000000001" fill="#000"/>
<rect x="93.35" y="201.63" width="1.6500000000000001" height="1.6500000000000001" fill="#000"/>
<rect x="117.53" y="214.11" width="1.6500000000000001" height="1.6500000000000001" fill="#000"/>
<rect x="85.71" y="199.34" width="1.6500000000000001" height="1.6500000000000001" fill="#000"/>
<rect x="113.53" y="213.81" width="1.6500000000000001" height="1.6500000000000001" fill="#000"/>
<rect x="114.66" y="212.7" width="1.6500000000000001" height="1.6500000000000001" fill="#000"/>
<rect x="88.8" y="209.29" width="1.6500000000000001" height="1.6500000000000001" fill="#000"/>
<rect x="76.44" y="203.04" width="1.6500000000000001" height="1.6500000000000001" fill="#000"/>
<rect x="96.61" y="210.92" width="1.6500000000000001" height="1.6500000000000001" fill="#000"/>
<rect x="90.19" y="206.9" width="1.6500000000000001" height="1.6500000000000001" fill="#000"/>
<rect x="101.58" y="210.01" width="1.6500000000000001" height="1.6500000000000001" fill="#000"/>
<rect x="103.3" y="208.97" width="1.6500000000000001" height="1.6500000000000001" fill="#000"/>
<rect x="94.07" y="212.57" width="1.6500000000000001" height="1.6500000000000001" fill="#000"/>
<rect x="97.65" y="202.55" width="1.6500000000000001" height="1.6500000000000001" fill="#000"/>
<rect x="91.17" y="207.67" width="1.6500000000000001" height="1.6500000000000001" fill="#000"/>
<rect x="96.12" y="208.65" width="1.6500000000000001" height="1.6500000000000001" fill="#000"/>
<rect x="97.17" y="208.77" width="1.6500000000000001" height="1.6500000000000001" fill="#000"/>
<rect x="95.89" y="199.87" width="1.6500000000000001" height="1.6500000000000001" fill="#000"/>
<rect x="101.22" y="214.21" width="1.6500000000000001" height="1.6500000000000001" fill="#000"/>
<rect x="101.35" y="206.5" width="1.6500000000000001" height="1.6500000000000001" fill="#000"/>
<rect x="101.46" y="201.69" width="1.6500000000000001" height="1.6500000000000001" fill="#000"/>
<rect x="78.97" y="208.04" width="1.6500000000000001" height="1.6500000000000001" fill="#000"/>
<rect x="88.24" y="212.26" width="1.6500000000000001" height="1.6500000000000001" fill="#000"/>
<rect x="87.2" y="217.46" width="1.6500000000000001" height="1.6500000000000001" fill="#000"/>
<rect x="93.51" y="199.18" width="1.6500000000000001" height="1.6500000000000001" fill="#000"/>
<rect x="89.85" y="210.9" width="1.6500000000000001" height="1.6500000000000001" fill="#000"/>
<rect x="101.94" y="208.77" width="1.6500000000000001" height="1.6500000000000001" fill="#000"/>
<rect x="111.42" y="212.06" width="1.6500000000000001" height="1.6500000000000001" fill="#000"/>
<rect x="96.97" y="211.37" width="1.6500000000000001" height="1.6500000000000001" fill="#000"/>
<rect x="113.06" y="213.7" width="1.6500000000000001" height="1.6500000000000001" fill="#000"/>
<rect x="107" y="200.96" width="1.6500000000000001" height="1.6500000000000001" fill="#000"/>
<rect x="95.75" y="212.2" width="1.6500000000000001" height="1.6500000000000001" fill="#000"/>
<rect x="94.33" y="214.3" width="1.6500000000000001" height="1.6500000000000001" fill="#000"/>
<rect x="102.9" y="213.31" width="1.6500000000000001" height="1.6500000000000001" fill="#000"/>
<rect x="95.14" y="223.46" width="1.6500000000000001" height="1.6500000000000001" fill="#000"/>
<rect x="109.08" y="206.34" width="1.6500000000000001" height="1.6500000000000001" fill="#000"/>
<rect x="98.04" y="223.77" width="1.6500000000000001" height="1.6500000000000001" fill="#000"/>
<rect x="93.88" y="213.09" width="1.6500000000000001" height="1.6500000000000001" fill="#000"/>
<rect x="106.59" y="207.72" width="1.6500000000000001" height="1.6500000000000001" fill="#000"/>
<rect x="85.97" y="208.84" width="1.6500000000000001" height="1.6500000000000001" fill="#000"/>
<rect x="100.63" y="214.68" width="1.6500000000000001" height="1.6500000000000001" fill="#000"/>
<rect x="104.69" y="207.83" width="1.6500000000000001" height="1.6500000000000001" fill="#000"/>
<rect x="105.37" y="211.02" width="1.6500000000000001" height="1.6500000000000001" fill="#000"/>
<rect x="99.15" y="208.02" width="1.6500000000000001" height="1.6500000000000001" fill="#000"/>
<rect x="94.84" y="211.93" width="1.6500000000000001" height="1.6500000000000001" fill="#000"/>
<rect x="87.05" y="203.78" width="1.6500000000000001" height="1.6500000000000001" fill="#000"/>
<rect x="97.22" y="198.6" width="1.6500000000000001" height="1.6500000000000001" fill="#000"/>
<rect x="92.99" y="195.22" width="1.6500000000000001" height="1.6500000000000001" fill="#000"/>
<rect x="90.62" y="211.2" width="1.6500000000000001" height="1.6500000000000001" fill="#000"/>
<rect x="102.61" y="207.34" width="1.6500000000000001" height="1.6500000000000001" fill="#000"/>
<rect x="94.95" y="198.89" width="1.6500000000000001" height="1.6500000000000001" fill="#000"/>
<rect x="114.72" y="210.87" width="1.6500000000000001" height="1.6500000000000001" fill="#000"/>
<rect x="107.67" y="202.2" width="1.6500000000000001" height="1.6500000000000001" fill="#000"/>
<rect x="95.4" y="196.39" width="1.6500000000000001" height="1.6500000000000001" fill="#000"/>
<rect x="104.67" y="213.47" width="1.6500000000000001" height="1.6500000000000001" fill="#000"/>
<rect x="78.96" y="207.35" width="1.6500000000000001" height="1.6500000000000001" fill="#000"/>
<rect x="103.23" y="196.75" width="1.6500000000000001" height="1.6500000000000001" fill="#000"/>
<rect x="79.65" y="201.07" width="1.6500000000000001" height="1.6500000000000001" fill="#000"/>
<rect x="91.13" y="198.98" width="1.6500000000000001" height="1.6500000000000001" fill="#000"/>
<rect x="97.48" y="209.22" width="1.6500000000000001" height="1.6500000000000001" fill="#000"/>
<rect x="103.26" y="212.03" width="1.6500000000000001" height="1.6500000000000001" fill="#000"/>
<rect x="111.6" y="214.89" width="1.6500000000000001" height="1.6500000000000001" fill="#000"/>
<rect x="84.58" y="204.54" width="1.6500000000000001" height="1.6500000000000001" fill="#000"/>
<rect x="87" y="201" width="1.6500000000000001" height="1.6500000000000001" fill="#000"/>
<rect x="96.39" y="207.71" width="1.6500000000000001" height="1.6500000000000001" fill="#000"/>
<rect x="101.88" y="197.84" width="1.6500000000000001" height="1.6500000000000001" fill="#000"/>
<rect x="85.29" y="207.53" width="1.6500000000000001" height="1.6500000000000001" fill="#000"/>
<rect x="95.26" y="205.75" width="1.6500000000000001" height="1.6500000000000001" fill="#000"/>
<rect x="96.57" y="202.96" width="1.6500000000000001" height="1.6500000000000001" fill="#000"/>
<rect x="103.91" y="209.87" width="1.6500000000000001" height="1.6500000000000001" fill="#000"/>
<rect x="96.33" y="203.51" width="1.6500000000000001" height="1.6500000000000001" fill="#000"/>
<rect x="87.75" y="207.91" width="1.6500000000000001" height="1.6500000000000001" fill="#000"/>
<rect x="82.74" y="208.91" width="1.6500000000000001" height="1.6500000000000001" fill="#000"/>
<rect x="98.59" y="199.13" width="1.6500000000000001" height="1.6500000000000001" fill="#000"/>
<rect x="95.42" y="205.8" width="1.6500000000000001" height="1.6500000000000001" fill="#000"/>
<rect x="98.97" y="208.39" width="1.6500000000000001" height="1.6500000000000001" fill="#000"/>
<rect x="96.49" y="204.29" width="1.6500000000000001" height="1.6500000000000001" fill="#000"/>
<rect x="95.95" y="206.49" width="1.6500000000000001" height="1.6500000000000001" fill="#000"/>
<rect x="100.35" y="207.5" width="1.6500000000000001" height="1.6500000000000001" fill="#000"/>
<rect x="93.06" y="202.88" width="1.6500000000000001" height="1.6500000000000001" fill="#000"/>
<rect x="94.81" y="204.6" width="1.6500000000000001" height="1.6500000000000001" fill="#000"/>
<rect x="91.12" y="206.35" width="1.6500000000000001" height="1.6500000000000001" fill="#000"/>
<rect x="94.22" y="206.97" width="1.6500000000000001" height="1.6500000000000001" fill="#000"/>
<rect x="99.29" y="205.52" width="1.6500000000000001" height="1.6500000000000001" fill="#000"/>
<rect x="108.3" y="205.77" width="1.6500000000000001" height="1.6500000000000001" fill="#000"/>
<rect x="102.18" y="207.02" width="1.6500000000000001" height="1.6500000000000001" fill="#000"/>
<rect x="102.26" y="200.02" width="1.6500000000000001" height="1.6500000000000001" fill="#000"/>
<rect x="92.92" y="207.37" width="1.6500000000000001" height="1.6500000000000001" fill="#000"/>
<rect x="99.69" y="213.22" width="1.6500000000000001" height="1.6500000000000001" fill="#000"/>
<rect x="98.29" y="210.26" width="1.6500000000000001" height="1.6500000000000001" fill="#000"/>
<rect x="100.51" y="209.33" width="1.6500000000000001" height="1.6500000000000001" fill="#000"/>
<rect x="99.23" y="206.24" width="1.6500000000000001" height="1.6500000000000001" fill="#000"/>
<rect x="99.22" y="203.66" width="1.6500000000000001" height="1.6500000000000001" fill="#000"/>
<rect x="102.58" y="203.83" width="1.6500000000000001" height="1.6500000000000001" fill="#000"/>
<rect x="97.92" y="212.61" width="1.6500000000000001" height="1.6500000000000001" fill="#000"/>
<rect x="95.56" y="206.73" width="1.6500000000000001" height="1.6500000000000001" fill="#000"/>
<rect x="102.49" y="206.75" width="1.6500000000000001" height="1.6500000000000001" fill="#000"/>
<rect x="92.64" y="207.4" width="1.6500000000000001" height="1.6500000000000001" fill="#000"/>
<rect x="99.59" y="208.66" width="1.6500000000000001" height="1.6500000000000001" fill="#000"/>
<rect x="92.81" y="211.58" width="1.6500000000000001" height="1.6500000000000001" fill="#000"/>
<rect x="105.01" y="206.73" width="1.6500000000000001" height="1.6500000000000001" fill="#000"/>
<rect x="98.02" y="205.48" width="1.6500000000000001" height="1.6500000000000001" fill="#000"/>
<rect x="103.75" y="204.7" width="1.6500000000000001" height="1.6500000000000001" fill="#000"/>
<rect x="100.05" y="205.33" width="1.6500000000000001" height="1.6500000000000001" fill="#000"/>
<rect x="93.2" y="208.69" width="1.6500000000000001" height="1.6500000000000001" fill="#000"/>
<rect x="103.34" y="206.65" width="1.6500000000000001" height="1.6500000000000001" fill="#000"/>
<rect x="93.29" y="208.95" width="1.6500000000000001" height="1.6500000000000001" fill="#000"/>
<rect x="96.43" y="207.54" width="1.6500000000000001" height="1.6500000000000001" fill="#000"/>
<rect x="104.29" y="209.84" width="1.6500000000000001" height="1.6500000000000001" fill="#000"/>
<rect x="94.08" y="213.07" width="1.6500000000000001" height="1.6500000000000001" fill="#000"/>
<rect x="96.69" y="208.88" width="1.6500000000000001" height="1.6500000000000001" fill="#000"/>
<rect x="93.44" y="206.55" width="1.6500000000000001" height="1.6500000000000001" fill="#000"/>
<rect x="87.93" y="211.68" width="1.6500000000000001" height="1.6500000000000001" fill="#000"/>
<rect x="103.5" y="203.27" width="1.6500000000000001" height="1.6500000000000001" fill="#000"/>
<rect x="89.15" y="202.14" width="1.6500000000000001" height="1.6500000000000001" fill="#000"/>
<rect x="102.55" y="205.39" width="1.6500000000000001" height="1.6500000000000001" fill="#000"/>
<rect x="93.59" y="212.7" width="1.6" height="1.6" fill="#000"/>
<rect x="92.99" y="206.49" width="1.6" height="1.6" fill="#000"/>
<rect x="94.44" y="203.7" width="1.6" height="1.6" fill="#000"/>
<rect x="93.49" y="217.67" width="1.6" height="1.6" fill="#000"/>
<rect x="98.88" y="213.35" width="1.6" height="1.6" fill="#000"/>
<rect x="85.16" y="216.48" width="1.6" height="1.6" fill="#000"/>
<rect x="89.35" y="227.73" width="1.6" height="1.6" fill="#000"/>
<rect x="101.88" y="214.28" width="1.6" height="1.6" fill="#000"/>
<rect x="89.49" y="209.58" width="1.6" height="1.6" fill="#000"/>
<rect x="84.83" y="212.38" width="1.6" height="1.6" fill="#000"/>
<rect x="97.15" y="219.32" width="1.6" height="1.6" fill="#000"/>
<rect x="87.15" y="215.3" width="1.6" height="1.6" fill="#000"/>
<rect x="88.99" y="216.56" width="1.6" height="1.6" fill="#000"/>
<rect x="95.74" y="218.46" width="1.6" height="1.6" fill="#000"/>
<rect x="91.81" y="218.13" width="1.6" height="1.6" fill="#000"/>
<rect x="94.73" y="221.37" width="1.6" height="1.6" fill="#000"/>
<rect x="75.27" y="208.12" width="1.6" height="1.6" fill="#000"/>
<rect x="94.18" y="206.95" width="1.6" height="1.6" fill="#000"/>
<rect x="83.75" y="220.22" width="1.6" height="1.6" fill="#000"/>
<rect x="87.7" y="220.28" width="1.6" height="1.6" fill="#000"/>
<rect x="101.66" y="217.65" width="1.6" height="1.6" fill="#000"/>
<rect x="99.28" y="214.36" width="1.6" height="1.6" fill="#000"/>
<rect x="80.11" y="214.96" width="1.6" height="1.6" fill="#000"/>
<rect x="98.74" y="210.96" width="1.6" height="1.6" fill="#000"/>
<rect x="93.2" y="221.19" width="1.6" height="1.6" fill="#000"/>
<rect x="85.42" y="220.32" width="1.6" height="1.6" fill="#000"/>
<rect x="112.83" y="210.76" width="1.6" height="1.6" fill="#000"/>
<rect x="95.67" y="214" width="1.6" height="1.6" fill="#000"/>
<rect x="109.6" y="217.73" width="1.6" height="1.6" fill="#000"/>
<rect x="103.18" y="209.68" width="1.6" height="1.6" fill="#000"/>
<rect x="94.04" y="215.12" width="1.6" height="1.6" fill="#000"/>
<rect x="76.44" y="226.73" width="1.6" height="1.6" fill="#000"/>
<rect x="103.19" y="201.21" width="1.6" height="1.6" fill="#000"/>
<rect x="101.64" y="214.15" width="1.6" height="1.6" fill="#000"/>
<rect x="98.68" y="218.13" width="1.6" height="1.6" fill="#000"/>
<rect x="79.21" y="213.5" width="1.6" height="1.6" fill="#000"/>
<rect x="109.13" y="210.6" width="1.6" height="1.6" fill="#000"/>
<rect x="83.97" y="204.32" width="1.6" height="1.6" fill="#000"/>
<rect x="81.99" y="217.88" width="1.6" height="1.6" fill="#000"/>
<rect x="111.13" y="218.64" width="1.6" height="1.6" fill="#000"/>
<rect x="89.01" y="209.81" width="1.6" height="1.6" fill="#000"/>
<rect x="99.48" y="219.59" width="1.6" height="1.6" fill="#000"/>
<rect x="84.05" y="205.84" width="1.6" height="1.6" fill="#000"/>
<rect x="97.11" y="217.18" width="1.6" height="1.6" fill="#000"/>
<rect x="81.13" y="213.58" width="1.6" height="1.6" fill="#000"/>
<rect x="91.04" y="222.27" width="1.6" height="1.6" fill="#000"/>
<rect x="95.09" y="219.81" width="1.6" height="1.6" fill="#000"/>
<rect x="92.84" y="224.94" width="1.6" height="1.6" fill="#000"/>
<rect x="109.41" y="218.55" width="1.6" height="1.6" fill="#000"/>
<rect x="104.24" y="216.79" width="1.6" height="1.6" fill="#000"/>
<rect x="96.88" y="223.57" width="1.6" height="1.6" fill="#000"/>
<rect x="110.59" y="218.48" width="1.6" height="1.6" fill="#000"/>
<rect x="95.5" y="221.08" width="1.6" height="1.6" fill="#000"/>
<rect x="81.97" y="220.27" width="1.6" height="1.6" fill="#000"/>
<rect x="89.78" y="221.87" width="1.6" height="1.6" fill="#000"/>
<rect x="96.56" y="221.37" width="1.6" height="1.6" fill="#000"/>
<rect x="90.99" y="224.2" width="1.6" height="1.6" fill="#000"/>
<rect x="93.6" y="217.47" width="1.6" height="1.6" fill="#000"/>
<rect x="100.74" y="213.14" width="1.6" height="1.6" fill="#000"/>
<rect x="89.76" y="220.11" width="1.6" height="1.6" fill="#000"/>
<rect x="104.26" y="219.47" width="1.6" height="1.6" fill="#000"/>
<rect x="99.13" y="217.25" width="1.6" height="1.6" fill="#000"/>
<rect x="99.07" y="227.69" width="1.6" height="1.6" fill="#000"/>
<rect x="90.08" y="220.28" width="1.6" height="1.6" fill="#000"/>
<rect x="97.85" y="224.81" width="1.6" height="1.6" fill="#000"/>
<rect x="101.96" y="223.78" width="1.6" height="1.6" fill="#000"/>
<rect x="98.15" y="221.34" width="1.6" height="1.6" fill="#000"/>
<rect x="105.03" y="221.86" width="1.6" height="1.6" fill="#000"/>
<rect x="112.01" y="214.63" width="1.6" height="1.6" fill="#000"/>
<rect x="103.92" y="218.52" width="1.6" height="1.6" fill="#000"/>
<rect x="104.98" y="229.89" width="1.6" height="1.6" fill="#000"/>
<rect x="96.14" y="219.05" width="1.6" height="1.6" fill="#000"/>
<rect x="91.45" y="216.43" width="1.6" height="1.6" fill="#000"/>
<rect x="90.21" y="223.08" width="1.6" height="1.6" fill="#000"/>
<rect x="96.55" y="220.5" width="1.6" height="1.6" fill="#000"/>
<rect x="94.55" y="224.31" width="1.6" height="1.6" fill="#000"/>
<rect x="100.89" y="219.56" width="1.6" height="1.6" fill="#000"/>
<rect x="74.3" y="220.22" width="1.8" height="1.8" fill="#000"/>
<rect x="74.3" y="201.68" width="1.8" height="1.8" fill="#000"/>
<rect x="74.3" y="205.34" width="1.8" height="1.8" fill="#000"/>
<rect x="74.3" y="216.73" width="1.8" height="1.8" fill="#000"/>
<rect x="74.3" y="216.74" width="1.8" height="1.8" fill="#000"/>
<rect x="74.3" y="207.2" width="1.8" height="1.8" fill="#000"/>
<rect x="74.3" y="197.81" width="1.8" height="1.8" fill="#000"/>
<rect x="74.3" y="208.2" width="1.8" height="1.8" fill="#000"/>
<rect x="74.3" y="205.73" width="1.8" height="1.8" fill="#000"/>
<rect x="74.3" y="219.13" width="1.8" height="1.8" fill="#000"/>
<rect x="74.3" y="201.33" width="1.8" height="1.8" fill="#000"/>
<rect x="74.3" y="205.52" width="1.8" height="1.8" fill="#000"/>
<rect x="74.3" y="218.58" width="1.8" height="1.8" fill="#000"/>
<rect x="74.3" y="197.34" width="1.8" height="1.8" fill="#000"/>
<rect x="74.3" y="206.66" width="1.8" height="1.8" fill="#000"/>
<rect x="74.3" y="216.49" width="1.8" height="1.8" fill="#000"/>
<rect x="74.3" y="215.38" width="1.8" height="1.8" fill="#000"/>
<rect x="74.3" y="197.6" width="1.8" height="1.8" fill="#000"/>
<rect x="74.3" y="197.45" width="1.8" height="1.8" fill="#000"/>
<rect x="74.3" y="198.13" width="1.8" height="1.8" fill="#000"/>
<rect x="74.3" y="219.14" width="1.8" height="1.8" fill="#000"/>
<rect x="74.3" y="202.9" width="1.8" height="1.8" fill="#000"/>
<rect x="74.3" y="214.91" width="1.8" height="1.8" fill="#000"/>
<rect x="74.3" y="218.61" width="1.8" height="1.8" fill="#000"/>
<rect x="74.3" y="204.91" width="1.8" height="1.8" fill="#000"/>
<rect x="74.3" y="203.27" width="1.8" height="1.8" fill="#000"/>
<rect x="74.3" y="220.06" width="1.8" height="1.8" fill="#000"/>
<rect x="74.3" y="211.72" width="1.8" height="1.8" fill="#000"/>
<rect x="74.3" y="203.02" width="1.8" height="1.8" fill="#000"/>
<rect x="74.3" y="214.16" width="1.8" height="1.8" fill="#000"/>
<rect x="74.3" y="204.35" width="1.8" height="1.8" fill="#000"/>
<rect x="74.3" y="203.35" width="1.8" height="1.8" fill="#000"/>
<rect x="74.3" y="196.69" width="1.8" height="1.8" fill="#000"/>
<rect x="74.3" y="215.11" width="1.8" height="1.8" fill="#000"/>
<rect x="74.3" y="219.05" width="1.8" height="1.8" fill="#000"/>
<rect x="74.3" y="212.13" width="1.8" height="1.8" fill="#000"/>
<rect x="74.3" y="219.71" width="1.8" height="1.8" fill="#000"/>
<rect x="74.3" y="197.19" width="1.8" height="1.8" fill="#000"/>
<rect x="74.3" y="202.33" width="1.8" height="1.8" fill="#000"/>
<rect x="74.3" y="208.24" width="1.8" height="1.8" fill="#000"/>
<rect x="74.3" y="220.04" width="1.8" height="1.8" fill="#000"/>
<rect x="74.3" y="219.97" width="1.8" height="1.8" fill="#000"/>
<rect x="74.3" y="206.07" width="1.8" height="1.8" fill="#000"/>
<rect x="74.3" y="202.75" width="1.8" height="1.8" fill="#000"/>
<rect x="74.3" y="207.13" width="1.8" height="1.8" fill="#000"/>
<rect x="74.3" y="208.69" width="1.8" height="1.8" fill="#000"/>
<rect x="74.3" y="219.34" width="1.8" height="1.8" fill="#000"/>
<rect x="74.3" y="201.08" width="1.8" height="1.8" fill="#000"/>
<rect x="74.1" y="161.1" width="1.8" height="1.8" fill="#000"/>
<rect x="111.59" y="171.97" width="1.6" height="1.6" fill="#000"/>
<rect x="112.62" y="171.47" width="1.6" height="1.6" fill="#000"/>
<rect x="106.07" y="178.6" width="1.6" height="1.6" fill="#000"/>
<rect x="107.39" y="183.45" width="1.6" height="1.6" fill="#000"/>
<rect x="109.57" y="177.47" width="1.6" height="1.6" fill="#000"/>
<rect x="111.65" y="184.14" width="1.6" height="1.6" fill="#000"/>
<rect x="109.23" y="180.61" width="1.6" height="1.6" fill="#000"/>
<rect x="103.42" y="191.79" width="1.6" height="1.6" fill="#000"/>
<rect x="109.02" y="180.91" width="1.6" height="1.6" fill="#000"/>
<rect x="113.55" y="179.63" width="1.6" height="1.6" fill="#000"/>
<rect x="107.98" y="175.71" width="1.6" height="1.6" fill="#000"/>
<rect x="109.66" y="183" width="1.6" height="1.6" fill="#000"/>
<rect x="104.3" y="177.65" width="1.6" height="1.6" fill="#000"/>
<rect x="109.09" y="171.7" width="1.6" height="1.6" fill="#000"/>
<rect x="108.03" y="178.08" width="1.6" height="1.6" fill="#000"/>
<rect x="111.23" y="175.45" width="1.6" height="1.6" fill="#000"/>
<rect x="105.23" y="179.65" width="1.6" height="1.6" fill="#000"/>
<rect x="108.98" y="176.72" width="1.6" height="1.6" fill="#000"/>
<rect x="109.25" y="182.1" width="1.6" height="1.6" fill="#000"/>
<rect x="114.53" y="183.18" width="1.6" height="1.6" fill="#000"/>
<rect x="105.67" y="179.33" width="1.6" height="1.6" fill="#000"/>
<rect x="98.03" y="192.19" width="1.6" height="1.6" fill="#000"/>
<rect x="91.4" y="189.1" width="1.6" height="1.6" fill="#000"/>
<rect x="101.38" y="185.12" width="1.6" height="1.6" fill="#000"/>
<rect x="100.91" y="189.12" width="1.6" height="1.6" fill="#000"/>
<rect x="82.59" y="190.08" width="1.6" height="1.6" fill="#000"/>
<rect x="106.76" y="183.6" width="1.6" height="1.6" fill="#000"/>
<rect x="103.66" y="189.83" width="1.6" height="1.6" fill="#000"/>
<rect x="101" y="190.52" width="1.6" height="1.6" fill="#000"/>
<rect x="107.63" y="188.53" width="1.6" height="1.6" fill="#000"/>
<rect x="104.19" y="187.97" width="1.6" height="1.6" fill="#000"/>
<rect x="81.2" y="182.2" width="1.6" height="1.6" fill="#000"/>
<rect x="96.2" y="176.8" width="1.6" height="1.6" fill="#000"/>
<rect x="132.39" y="169.82" width="1.6" height="1.6" fill="#000"/>
<rect x="125.28" y="188.36" width="1.6" height="1.6" fill="#000"/>
<rect x="129.99" y="174.81" width="1.6" height="1.6" fill="#000"/>
<rect x="116.47" y="175.87" width="1.6" height="1.6" fill="#000"/>
<rect x="127.85" y="182.46" width="1.6" height="1.6" fill="#000"/>
<rect x="129.82" y="179.13" width="1.6" height="1.6" fill="#000"/>
<rect x="125.85" y="185.78" width="1.6" height="1.6" fill="#000"/>
<rect x="122.88" y="174.99" width="1.6" height="1.6" fill="#000"/>
<rect x="133.75" y="174.8" width="1.6" height="1.6" fill="#000"/>
<rect x="123.83" y="174.48" width="1.6" height="1.6" fill="#000"/>
<rect x="124.02" y="181.91" width="1.6" height="1.6" fill="#000"/>
<rect x="129.21" y="168.52" width="1.6" height="1.6" fill="#000"/>
<rect x="129.82" y="176.98" width="1.6" height="1.6" fill="#000"/>
<rect x="117.7" y="185.18" width="1.6" height="1.6" fill="#000"/>
<rect x="123.82" y="175.99" width="1.6" height="1.6" fill="#000"/>
<rect x="132.96" y="182.95" width="1.6" height="1.6" fill="#000"/>
<rect x="120.35" y="182.11" width="1.6" height="1.6" fill="#000"/>
<rect x="122" y="186.23" width="1.6" height="1.6" fill="#000"/>
<rect x="120.7" y="184.31" width="1.6" height="1.6" fill="#000"/>
<rect x="122.51" y="181.7" width="1.6" height="1.6" fill="#000"/>
<rect x="125.41" y="173.31" width="1.6" height="1.6" fill="#000"/>
<rect x="144.49" y="170.92" width="1.6" height="1.6" fill="#000"/>
<rect x="121.29" y="179.93" width="1.6" height="1.6" fill="#000"/>
<rect x="136.92" y="173.96" width="1.6" height="1.6" fill="#000"/>
<rect x="136.25" y="178.1" width="1.6" height="1.6" fill="#000"/>
<rect x="119.27" y="185.14" width="1.6" height="1.6" fill="#000"/>
<rect x="130.42" y="179.68" width="1.6" height="1.6" fill="#000"/>
<rect x="132.1" y="162.3" width="1.8" height="1.8" fill="#000"/>
<rect x="141.6" y="162.3" width="1.8" height="1.8" fill="#000"/>
<rect x="147.15" y="176.65" width="1.7" height="1.7" fill="#000"/>
<rect x="144.2" y="181.7" width="1.6" height="1.6" fill="#000"/>
<rect x="131.2" y="190.2" width="1.6" height="1.6" fill="#000"/>
<rect x="129.58" y="212.47" width="1.6500000000000001" height="1.6500000000000001" fill="#000"/>
<rect x="125.19" y="209.79" width="1.6500000000000001" height="1.6500000000000001" fill="#000"/>
<rect x="139.49" y="203.21" width="1.6500000000000001" height="1.6500000000000001" fill="#000"/>
<rect x="122.2" y="205.96" width="1.6500000000000001" height="1.6500000000000001" fill="#000"/>
<rect x="129.49" y="204.37" width="1.6500000000000001" height="1.6500000000000001" fill="#000"/>
<rect x="131.06" y="202.38" width="1.6500000000000001" height="1.6500000000000001" fill="#000"/>
<rect x="125.78" y="202.93" width="1.6500000000000001" height="1.6500000000000001" fill="#000"/>
<rect x="125.12" y="201.66" width="1.6500000000000001" height="1.6500000000000001" fill="#000"/>
<rect x="126" y="202.77" width="1.6500000000000001" height="1.6500000000000001" fill="#000"/>
<rect x="125.38" y="213.25" width="1.6500000000000001" height="1.6500000000000001" fill="#000"/>
<rect x="118.31" y="204.05" width="1.6500000000000001" height="1.6500000000000001" fill="#000"/>
<rect x="127.41" y="210.54" width="1.6500000000000001" height="1.6500000000000001" fill="#000"/>
<rect x="131.63" y="210.17" width="1.6500000000000001" height="1.6500000000000001" fill="#000"/>
<rect x="124.25" y="204.28" width="1.6500000000000001" height="1.6500000000000001" fill="#000"/>
<rect x="125.76" y="203.62" width="1.6500000000000001" height="1.6500000000000001" fill="#000"/>
<rect x="118.03" y="199.67" width="1.6500000000000001" height="1.6500000000000001" fill="#000"/>
<rect x="120.59" y="201.14" width="1.6500000000000001" height="1.6500000000000001" fill="#000"/>
<rect x="117.22" y="208.92" width="1.6500000000000001" height="1.6500000000000001" fill="#000"/>
<rect x="116.32" y="208.87" width="1.6500000000000001" height="1.6500000000000001" fill="#000"/>
<rect x="118.09" y="207.17" width="1.6500000000000001" height="1.6500000000000001" fill="#000"/>
<rect x="132.42" y="209.49" width="1.6500000000000001" height="1.6500000000000001" fill="#000"/>
<rect x="119.79" y="205.48" width="1.6500000000000001" height="1.6500000000000001" fill="#000"/>
<rect x="120.53" y="206.44" width="1.6500000000000001" height="1.6500000000000001" fill="#000"/>
<rect x="121.36" y="206.06" width="1.6500000000000001" height="1.6500000000000001" fill="#000"/>
<rect x="128.58" y="212.46" width="1.6500000000000001" height="1.6500000000000001" fill="#000"/>
<rect x="129.61" y="211.48" width="1.6500000000000001" height="1.6500000000000001" fill="#000"/>
<rect x="122.45" y="205.65" width="1.6500000000000001" height="1.6500000000000001" fill="#000"/>
<rect x="122.55" y="203.65" width="1.6500000000000001" height="1.6500000000000001" fill="#000"/>
<rect x="122.18" y="205.54" width="1.6500000000000001" height="1.6500000000000001" fill="#000"/>
<rect x="118.33" y="204.65" width="1.6500000000000001" height="1.6500000000000001" fill="#000"/>
<rect x="127.27" y="205.77" width="1.6500000000000001" height="1.6500000000000001" fill="#000"/>
<rect x="130.05" y="225.75" width="1.6500000000000001" height="1.6500000000000001" fill="#000"/>
<rect x="127.29" y="204.83" width="1.6500000000000001" height="1.6500000000000001" fill="#000"/>
<rect x="129.29" y="209.92" width="1.6500000000000001" height="1.6500000000000001" fill="#000"/>
<rect x="124.31" y="202.18" width="1.6500000000000001" height="1.6500000000000001" fill="#000"/>
<rect x="128.01" y="203.74" width="1.6500000000000001" height="1.6500000000000001" fill="#000"/>
<rect x="125.51" y="202.99" width="1.6500000000000001" height="1.6500000000000001" fill="#000"/>
<rect x="125.39" y="211.63" width="1.6500000000000001" height="1.6500000000000001" fill="#000"/>
<rect x="118.92" y="204.72" width="1.6500000000000001" height="1.6500000000000001" fill="#000"/>
<rect x="127.88" y="208.04" width="1.6500000000000001" height="1.6500000000000001" fill="#000"/>
<rect x="131.63" y="221.57" width="1.6500000000000001" height="1.6500000000000001" fill="#000"/>
<rect x="129.31" y="217.86" width="1.6500000000000001" height="1.6500000000000001" fill="#000"/>
<rect x="144.1" y="204.6" width="1.8" height="1.8" fill="#000"/>
<rect x="140.2" y="205.7" width="1.6" height="1.6" fill="#000"/>
<rect x="137.2" y="219.7" width="1.6" height="1.6" fill="#000"/>
<rect x="128.65" y="226.65" width="1.7" height="1.7" fill="#000"/>
<rect x="119.55" y="214.55" width="1.9000000000000001" height="1.9000000000000001" fill="#000"/>
<rect x="121.05" y="214.55" width="1.9000000000000001" height="1.9000000000000001" fill="#000"/>
<rect x="356.16" y="222.38" width="1.6500000000000001" height="1.6500000000000001" fill="#000"/>
<rect x="350" y="212.61" width="1.6500000000000001" height="1.6500000000000001" fill="#000"/>
<rect x="356.03" y="211.34" width="1.6500000000000001" height="1.6500000000000001" fill="#000"/>
<rect x="345.22" y="210.79" width="1.6500000000000001" height="1.6500000000000001" fill="#000"/>
<rect x="349.73" y="212.51" width="1.6500000000000001" height="1.6500000000000001" fill="#000"/>
<rect x="353.4" y="212.38" width="1.6500000000000001" height="1.6500000000000001" fill="#000"/>
<rect x="357.72" y="216.67" width="1.6500000000000001" height="1.6500000000000001" fill="#000"/>
<rect x="348.13" y="225.55" width="1.6500000000000001" height="1.6500000000000001" fill="#000"/>
<rect x="350.14" y="218.59" width="1.6500000000000001" height="1.6500000000000001" fill="#000"/>
<rect x="352.42" y="215.16" width="1.6500000000000001" height="1.6500000000000001" fill="#000"/>
<rect x="353.77" y="212.74" width="1.6500000000000001" height="1.6500000000000001" fill="#000"/>
<rect x="345.1" y="203.04" width="1.6500000000000001" height="1.6500000000000001" fill="#000"/>
<rect x="347.41" y="212.32" width="1.6500000000000001" height="1.6500000000000001" fill="#000"/>
<rect x="352.38" y="217.53" width="1.6500000000000001" height="1.6500000000000001" fill="#000"/>
<rect x="354.7" y="217.94" width="1.6500000000000001" height="1.6500000000000001" fill="#000"/>
<rect x="349.3" y="212.64" width="1.6500000000000001" height="1.6500000000000001" fill="#000"/>
<rect x="344" y="216.09" width="1.6500000000000001" height="1.6500000000000001" fill="#000"/>
<rect x="354.41" y="220.56" width="1.6500000000000001" height="1.6500000000000001" fill="#000"/>
<rect x="351.99" y="216.06" width="1.6500000000000001" height="1.6500000000000001" fill="#000"/>
<rect x="356.22" y="217.27" width="1.6500000000000001" height="1.6500000000000001" fill="#000"/>
<rect x="355.43" y="220.9" width="1.6500000000000001" height="1.6500000000000001" fill="#000"/>
<rect x="353.33" y="225.54" width="1.6500000000000001" height="1.6500000000000001" fill="#000"/>
<rect x="350.18" y="214.88" width="1.6500000000000001" height="1.6500000000000001" fill="#000"/>
<rect x="349.24" y="212.07" width="1.6500000000000001" height="1.6500000000000001" fill="#000"/>
<rect x="358.7" y="228.43" width="1.6500000000000001" height="1.6500000000000001" fill="#000"/>
<rect x="352.57" y="220.81" width="1.6500000000000001" height="1.6500000000000001" fill="#000"/>
<rect x="357.18" y="222.34" width="1.6500000000000001" height="1.6500000000000001" fill="#000"/>
<rect x="357.3" y="209.09" width="1.6500000000000001" height="1.6500000000000001" fill="#000"/>
<rect x="349.92" y="220.07" width="1.6500000000000001" height="1.6500000000000001" fill="#000"/>
<rect x="358.22" y="217.84" width="1.6500000000000001" height="1.6500000000000001" fill="#000"/>
<rect x="349.04" y="214.91" width="1.6500000000000001" height="1.6500000000000001" fill="#000"/>
<rect x="349.83" y="211.68" width="1.6500000000000001" height="1.6500000000000001" fill="#000"/>
<rect x="358.48" y="213.17" width="1.6500000000000001" height="1.6500000000000001" fill="#000"/>
<rect x="357.21" y="219.33" width="1.6500000000000001" height="1.6500000000000001" fill="#000"/>
<rect x="350.03" y="219.8" width="1.6500000000000001" height="1.6500000000000001" fill="#000"/>
<rect x="358.96" y="221.16" width="1.6500000000000001" height="1.6500000000000001" fill="#000"/>
<rect x="357.52" y="217.8" width="1.6500000000000001" height="1.6500000000000001" fill="#000"/>
<rect x="354.54" y="215.89" width="1.6500000000000001" height="1.6500000000000001" fill="#000"/>
<rect x="354.18" y="225.5" width="1.6500000000000001" height="1.6500000000000001" fill="#000"/>
<rect x="346.75" y="216.77" width="1.6500000000000001" height="1.6500000000000001" fill="#000"/>
<rect x="353.44" y="213.52" width="1.6500000000000001" height="1.6500000000000001" fill="#000"/>
<rect x="351.24" y="222.21" width="1.6500000000000001" height="1.6500000000000001" fill="#000"/>
<rect x="360.48" y="221.2" width="1.6500000000000001" height="1.6500000000000001" fill="#000"/>
<rect x="353.78" y="207.25" width="1.6500000000000001" height="1.6500000000000001" fill="#000"/>
<rect x="360.19" y="217.67" width="1.6500000000000001" height="1.6500000000000001" fill="#000"/>
<rect x="352.34" y="210.02" width="1.6500000000000001" height="1.6500000000000001" fill="#000"/>
<rect x="352.25" y="210.16" width="1.6500000000000001" height="1.6500000000000001" fill="#000"/>
<rect x="352.76" y="220.16" width="1.6500000000000001" height="1.6500000000000001" fill="#000"/>
<rect x="352.6" y="218.96" width="1.6500000000000001" height="1.6500000000000001" fill="#000"/>
<rect x="349.07" y="226.33" width="1.6500000000000001" height="1.6500000000000001" fill="#000"/>
<rect x="349.86" y="205.54" width="1.6500000000000001" height="1.6500000000000001" fill="#000"/>
<rect x="351.72" y="212.29" width="1.6500000000000001" height="1.6500000000000001" fill="#000"/>
<rect x="348.44" y="214.9" width="1.6500000000000001" height="1.6500000000000001" fill="#000"/>
<rect x="353.64" y="209.61" width="1.6500000000000001" height="1.6500000000000001" fill="#000"/>
<rect x="351.92" y="226.31" width="1.6500000000000001" height="1.6500000000000001" fill="#000"/>
<rect x="355.21" y="216.2" width="1.6500000000000001" height="1.6500000000000001" fill="#000"/>
<rect x="352.99" y="216.41" width="1.6500000000000001" height="1.6500000000000001" fill="#000"/>
<rect x="352.28" y="221.86" width="1.6500000000000001" height="1.6500000000000001" fill="#000"/>
<rect x="352.39" y="211.48" width="1.6500000000000001" height="1.6500000000000001" fill="#000"/>
<rect x="355.08" y="213.27" width="1.6500000000000001" height="1.6500000000000001" fill="#000"/>
<rect x="348.29" y="209.98" width="1.6500000000000001" height="1.6500000000000001" fill="#000"/>
<rect x="344.96" y="219.51" width="1.6500000000000001" height="1.6500000000000001" fill="#000"/>
<rect x="349.92" y="205.22" width="1.6500000000000001" height="1.6500000000000001" fill="#000"/>
<rect x="346.54" y="221.13" width="1.6500000000000001" height="1.6500000000000001" fill="#000"/>
<rect x="349.37" y="214.83" width="1.6500000000000001" height="1.6500000000000001" fill="#000"/>
<rect x="353.8" y="225.86" width="1.6500000000000001" height="1.6500000000000001" fill="#000"/>
<rect x="360.24" y="223.78" width="1.6500000000000001" height="1.6500000000000001" fill="#000"/>
<rect x="353.05" y="218.35" width="1.6500000000000001" height="1.6500000000000001" fill="#000"/>
<rect x="359.68" y="226.32" width="1.6500000000000001" height="1.6500000000000001" fill="#000"/>
<rect x="351.23" y="220.1" width="1.6500000000000001" height="1.6500000000000001" fill="#000"/>
<rect x="353.62" y="217.51" width="1.6500000000000001" height="1.6500000000000001" fill="#000"/>
<rect x="350.47" y="208.69" width="1.6500000000000001" height="1.6500000000000001" fill="#000"/>
<rect x="350.34" y="207.29" width="1.6500000000000001" height="1.6500000000000001" fill="#000"/>
<rect x="357.37" y="220.61" width="1.6500000000000001" height="1.6500000000000001" fill="#000"/>
<rect x="347.65" y="226.11" width="1.6500000000000001" height="1.6500000000000001" fill="#000"/>
<rect x="356.04" y="204.96" width="1.6500000000000001" height="1.6500000000000001" fill="#000"/>
<rect x="359.84" y="222.36" width="1.6500000000000001" height="1.6500000000000001" fill="#000"/>
<rect x="360.73" y="209.3" width="1.6500000000000001" height="1.6500000000000001" fill="#000"/>
<rect x="354.6" y="219.88" width="1.6500000000000001" height="1.6500000000000001" fill="#000"/>
<rect x="353.28" y="218.27" width="1.6500000000000001" height="1.6500000000000001" fill="#000"/>
<rect x="356.69" y="207.61" width="1.6500000000000001" height="1.6500000000000001" fill="#000"/>
<rect x="347.51" y="208.25" width="1.6500000000000001" height="1.6500000000000001" fill="#000"/>
<rect x="350.24" y="213.3" width="1.6500000000000001" height="1.6500000000000001" fill="#000"/>
<rect x="353.94" y="218.88" width="1.6500000000000001" height="1.6500000000000001" fill="#000"/>
<rect x="352.6" y="212.84" width="1.6500000000000001" height="1.6500000000000001" fill="#000"/>
<rect x="350.71" y="223.27" width="1.6500000000000001" height="1.6500000000000001" fill="#000"/>
<rect x="355.53" y="217.82" width="1.6500000000000001" height="1.6500000000000001" fill="#000"/>
<rect x="351.18" y="227.11" width="1.6500000000000001" height="1.6500000000000001" fill="#000"/>
<rect x="350.1" y="221.33" width="1.6500000000000001" height="1.6500000000000001" fill="#000"/>
<rect x="357.09" y="215.48" width="1.6500000000000001" height="1.6500000000000001" fill="#000"/>
<rect x="355.78" y="210.03" width="1.6500000000000001" height="1.6500000000000001" fill="#000"/>
<rect x="356.53" y="218.45" width="1.6500000000000001" height="1.6500000000000001" fill="#000"/>
<rect x="346.13" y="221.46" width="1.6500000000000001" height="1.6500000000000001" fill="#000"/>
<rect x="348.91" y="225.38" width="1.6500000000000001" height="1.6500000000000001" fill="#000"/>
<rect x="349.76" y="216.12" width="1.6500000000000001" height="1.6500000000000001" fill="#000"/>
<rect x="353.61" y="215.05" width="1.6500000000000001" height="1.6500000000000001" fill="#000"/>
<rect x="353.51" y="213.63" width="1.6500000000000001" height="1.6500000000000001" fill="#000"/>
<rect x="355.16" y="217.21" width="1.6500000000000001" height="1.6500000000000001" fill="#000"/>
<rect x="357.12" y="217.38" width="1.6500000000000001" height="1.6500000000000001" fill="#000"/>
<rect x="345.34" y="217.79" width="1.6500000000000001" height="1.6500000000000001" fill="#000"/>
<rect x="354.34" y="224.03" width="1.6500000000000001" height="1.6500000000000001" fill="#000"/>
<rect x="348.14" y="227.08" width="1.6500000000000001" height="1.6500000000000001" fill="#000"/>
<rect x="351.89" y="221.53" width="1.6500000000000001" height="1.6500000000000001" fill="#000"/>
<rect x="351.01" y="210.03" width="1.6500000000000001" height="1.6500000000000001" fill="#000"/>
<rect x="356.86" y="222.98" width="1.6500000000000001" height="1.6500000000000001" fill="#000"/>
<rect x="358.63" y="222.66" width="1.6500000000000001" height="1.6500000000000001" fill="#000"/>
<rect x="350.18" y="206.54" width="1.6500000000000001" height="1.6500000000000001" fill="#000"/>
<rect x="349.87" y="212.85" width="1.6500000000000001" height="1.6500000000000001" fill="#000"/>
<rect x="349.21" y="220.9" width="1.6500000000000001" height="1.6500000000000001" fill="#000"/>
<rect x="353.79" y="215.45" width="1.6500000000000001" height="1.6500000000000001" fill="#000"/>
<rect x="353.17" y="216.24" width="1.6500000000000001" height="1.6500000000000001" fill="#000"/>
<rect x="353.33" y="221.99" width="1.6500000000000001" height="1.6500000000000001" fill="#000"/>
<rect x="356.31" y="212.78" width="1.6500000000000001" height="1.6500000000000001" fill="#000"/>
<rect x="346.45" y="226.31" width="1.6500000000000001" height="1.6500000000000001" fill="#000"/>
<rect x="352.93" y="224.25" width="1.6500000000000001" height="1.6500000000000001" fill="#000"/>
<rect x="345.9" y="215.06" width="1.6500000000000001" height="1.6500000000000001" fill="#000"/>
<rect x="352.58" y="207.95" width="1.6500000000000001" height="1.6500000000000001" fill="#000"/>
<rect x="350.41" y="221.81" width="1.6500000000000001" height="1.6500000000000001" fill="#000"/>
<rect x="356.79" y="227.38" width="1.6500000000000001" height="1.6500000000000001" fill="#000"/>
<rect x="349.02" y="208.21" width="1.6500000000000001" height="1.6500000000000001" fill="#000"/>
<rect x="354.56" y="223.19" width="1.6500000000000001" height="1.6500000000000001" fill="#000"/>
<rect x="353.25" y="208.85" width="1.6500000000000001" height="1.6500000000000001" fill="#000"/>
<rect x="355.6" y="222.25" width="1.6500000000000001" height="1.6500000000000001" fill="#000"/>
<rect x="354.69" y="214.06" width="1.6500000000000001" height="1.6500000000000001" fill="#000"/>
<rect x="353.69" y="222.24" width="1.6500000000000001" height="1.6500000000000001" fill="#000"/>
<rect x="350.24" y="205.38" width="1.6500000000000001" height="1.6500000000000001" fill="#000"/>
<rect x="353.79" y="220.25" width="1.6500000000000001" height="1.6500000000000001" fill="#000"/>
<rect x="352.53" y="222.87" width="1.6500000000000001" height="1.6500000000000001" fill="#000"/>
<rect x="351.07" y="215.86" width="1.6500000000000001" height="1.6500000000000001" fill="#000"/>
<rect x="351.74" y="218.35" width="1.6500000000000001" height="1.6500000000000001" fill="#000"/>
<rect x="356.3" y="215.22" width="1.6500000000000001" height="1.6500000000000001" fill="#000"/>
<rect x="357.41" y="221.99" width="1.6500000000000001" height="1.6500000000000001" fill="#000"/>
<rect x="354.37" y="218.41" width="1.6500000000000001" height="1.6500000000000001" fill="#000"/>
<rect x="356.72" y="215.49" width="1.6500000000000001" height="1.6500000000000001" fill="#000"/>
<rect x="352.21" y="212.14" width="1.6500000000000001" height="1.6500000000000001" fill="#000"/>
<rect x="353.61" y="221.29" width="1.6500000000000001" height="1.6500000000000001" fill="#000"/>
<rect x="353.75" y="217.78" width="1.6500000000000001" height="1.6500000000000001" fill="#000"/>
<rect x="351.99" y="216.82" width="1.6500000000000001" height="1.6500000000000001" fill="#000"/>
<rect x="349.05" y="220.16" width="1.6500000000000001" height="1.6500000000000001" fill="#000"/>
<rect x="351.49" y="211.98" width="1.6500000000000001" height="1.6500000000000001" fill="#000"/>
<rect x="350.67" y="213.04" width="1.6500000000000001" height="1.6500000000000001" fill="#000"/>
<rect x="354.53" y="220.2" width="1.6500000000000001" height="1.6500000000000001" fill="#000"/>
<rect x="349.22" y="219.69" width="1.6500000000000001" height="1.6500000000000001" fill="#000"/>
<rect x="354.61" y="213.97" width="1.6500000000000001" height="1.6500000000000001" fill="#000"/>
<rect x="348.91" y="213.34" width="1.6500000000000001" height="1.6500000000000001" fill="#000"/>
<rect x="350.95" y="217.48" width="1.6500000000000001" height="1.6500000000000001" fill="#000"/>
<rect x="351.62" y="208.47" width="1.6500000000000001" height="1.6500000000000001" fill="#000"/>
<rect x="353.04" y="210.34" width="1.6500000000000001" height="1.6500000000000001" fill="#000"/>
<rect x="354.65" y="211.59" width="1.6500000000000001" height="1.6500000000000001" fill="#000"/>
<rect x="350.81" y="212.93" width="1.6500000000000001" height="1.6500000000000001" fill="#000"/>
<rect x="351.17" y="221.11" width="1.6500000000000001" height="1.6500000000000001" fill="#000"/>
<rect x="354.52" y="218.46" width="1.6500000000000001" height="1.6500000000000001" fill="#000"/>
<rect x="353.24" y="210.29" width="1.6500000000000001" height="1.6500000000000001" fill="#000"/>
<rect x="351.23" y="214.08" width="1.6500000000000001" height="1.6500000000000001" fill="#000"/>
<rect x="350.13" y="218.11" width="1.6500000000000001" height="1.6500000000000001" fill="#000"/>
<rect x="350.7" y="213.48" width="1.6500000000000001" height="1.6500000000000001" fill="#000"/>
<rect x="349.97" y="208.36" width="1.6500000000000001" height="1.6500000000000001" fill="#000"/>
<rect x="353.9" y="221.23" width="1.6500000000000001" height="1.6500000000000001" fill="#000"/>
<rect x="352.89" y="212.46" width="1.6500000000000001" height="1.6500000000000001" fill="#000"/>
<rect x="345.98" y="216.83" width="1.6500000000000001" height="1.6500000000000001" fill="#000"/>
<rect x="355.39" y="217.3" width="1.6500000000000001" height="1.6500000000000001" fill="#000"/>
<rect x="354.7" y="221.79" width="1.6500000000000001" height="1.6500000000000001" fill="#000"/>
<rect x="355.18" y="214.5" width="1.6500000000000001" height="1.6500000000000001" fill="#000"/>
<rect x="355" y="219.12" width="1.6500000000000001" height="1.6500000000000001" fill="#000"/>
<rect x="348.79" y="214.63" width="1.6500000000000001" height="1.6500000000000001" fill="#000"/>
<rect x="349.06" y="215.76" width="1.6500000000000001" height="1.6500000000000001" fill="#000"/>
<rect x="353.86" y="212.12" width="1.6500000000000001" height="1.6500000000000001" fill="#000"/>
<rect x="347.54" y="221.11" width="1.6500000000000001" height="1.6500000000000001" fill="#000"/>
<rect x="353.38" y="221.77" width="1.6500000000000001" height="1.6500000000000001" fill="#000"/>
<rect x="349.3" y="220.21" width="1.6500000000000001" height="1.6500000000000001" fill="#000"/>
<rect x="345.15" y="211.97" width="1.6" height="1.6" fill="#000"/>
<rect x="345.43" y="214.82" width="1.6" height="1.6" fill="#000"/>
<rect x="351.39" y="212.78" width="1.6" height="1.6" fill="#000"/>
<rect x="343.85" y="213.04" width="1.6" height="1.6" fill="#000"/>
<rect x="347.52" y="217.71" width="1.6" height="1.6" fill="#000"/>
<rect x="351.89" y="210.84" width="1.6" height="1.6" fill="#000"/>
<rect x="347.95" y="218.35" width="1.6" height="1.6" fill="#000"/>
<rect x="343.51" y="212.21" width="1.6" height="1.6" fill="#000"/>
<rect x="352.15" y="217.42" width="1.6" height="1.6" fill="#000"/>
<rect x="348.79" y="206.78" width="1.6" height="1.6" fill="#000"/>
<rect x="341.89" y="214.51" width="1.6" height="1.6" fill="#000"/>
<rect x="350.05" y="205.75" width="1.6" height="1.6" fill="#000"/>
<rect x="342.11" y="210.85" width="1.6" height="1.6" fill="#000"/>
<rect x="343.73" y="210.02" width="1.6" height="1.6" fill="#000"/>
<rect x="348.55" y="208.68" width="1.6" height="1.6" fill="#000"/>
<rect x="348.53" y="209.33" width="1.6" height="1.6" fill="#000"/>
<rect x="343.48" y="212.59" width="1.6" height="1.6" fill="#000"/>
<rect x="343.33" y="211.61" width="1.6" height="1.6" fill="#000"/>
<rect x="354.2" y="213.22" width="1.6" height="1.6" fill="#000"/>
<rect x="345.47" y="213.83" width="1.6" height="1.6" fill="#000"/>
<rect x="344.37" y="214.89" width="1.6" height="1.6" fill="#000"/>
<rect x="343.64" y="207.54" width="1.6" height="1.6" fill="#000"/>
<rect x="350.97" y="168.82" width="1.75" height="1.75" fill="#000"/>
<rect x="354.05" y="170.66" width="1.75" height="1.75" fill="#000"/>
<rect x="352.82" y="176.05" width="1.75" height="1.75" fill="#000"/>
<rect x="352.05" y="182.2" width="1.75" height="1.75" fill="#000"/>
<rect x="349.12" y="186.05" width="1.75" height="1.75" fill="#000"/>
<rect x="352.82" y="190.66" width="1.75" height="1.75" fill="#000"/>
<rect x="353.28" y="196.82" width="1.75" height="1.75" fill="#000"/>
<rect x="356.36" y="196.82" width="1.75" height="1.75" fill="#000"/>
<rect x="358.66" y="198.36" width="1.75" height="1.75" fill="#000"/>
<rect x="357.89" y="201.43" width="1.75" height="1.75" fill="#000"/>
<rect x="327.59" y="207.59" width="1.75" height="1.75" fill="#000"/>
<rect x="332.51" y="210.66" width="1.75" height="1.75" fill="#000"/>
<rect x="335.28" y="207.28" width="1.75" height="1.75" fill="#000"/>
<rect x="337.89" y="210.66" width="1.75" height="1.75" fill="#000"/>
<rect x="340.97" y="205.28" width="1.75" height="1.75" fill="#000"/>
<rect x="335.28" y="214.51" width="1.75" height="1.75" fill="#000"/>
<rect x="379.43" y="209.12" width="1.75" height="1.75" fill="#000"/>
<rect x="380.97" y="211.43" width="1.75" height="1.75" fill="#000"/>
<rect x="368.66" y="213.74" width="1.75" height="1.75" fill="#000"/>
<rect x="366.05" y="216.05" width="1.75" height="1.75" fill="#000"/>
<rect x="372.51" y="216.51" width="1.75" height="1.75" fill="#000"/>
<rect x="375.28" y="215.28" width="1.75" height="1.75" fill="#000"/>
<rect x="367.12" y="220.2" width="1.75" height="1.75" fill="#000"/>
<rect x="369.43" y="220.66" width="1.75" height="1.75" fill="#000"/>
<rect x="378.36" y="219.89" width="1.75" height="1.75" fill="#000"/>
<rect x="381.74" y="221.43" width="1.75" height="1.75" fill="#000"/>
<rect x="367.89" y="214.97" width="1.75" height="1.75" fill="#000"/>
<line x1="34.5" y1="326.6" x2="34.5" y2="438.65" stroke="#2a2a2a" stroke-width="1.1"/>
<line x1="30.5" y1="437.75" x2="34.5" y2="437.75" stroke="#2a2a2a" stroke-width="1.0"/>
<text x="29.5" y="440.8" font-size="8.5" text-anchor="end" font-weight="normal" fill="#000" stroke="#000" stroke-width="0.18">0</text>
<line x1="30.5" y1="421.96" x2="34.5" y2="421.96" stroke="#2a2a2a" stroke-width="1.0"/>
<text x="29.5" y="425.01" font-size="8.5" text-anchor="end" font-weight="normal" fill="#000" stroke="#000" stroke-width="0.18">5</text>
<line x1="30.5" y1="406.16" x2="34.5" y2="406.16" stroke="#2a2a2a" stroke-width="1.0"/>
<text x="29.5" y="409.21" font-size="8.5" text-anchor="end" font-weight="normal" fill="#000" stroke="#000" stroke-width="0.18">10</text>
<line x1="30.5" y1="390.37" x2="34.5" y2="390.37" stroke="#2a2a2a" stroke-width="1.0"/>
<text x="29.5" y="393.42" font-size="8.5" text-anchor="end" font-weight="normal" fill="#000" stroke="#000" stroke-width="0.18">15</text>
<line x1="30.5" y1="374.58" x2="34.5" y2="374.58" stroke="#2a2a2a" stroke-width="1.0"/>
<text x="29.5" y="377.63" font-size="8.5" text-anchor="end" font-weight="normal" fill="#000" stroke="#000" stroke-width="0.18">20</text>
<line x1="30.5" y1="358.79" x2="34.5" y2="358.79" stroke="#2a2a2a" stroke-width="1.0"/>
<text x="29.5" y="361.84" font-size="8.5" text-anchor="end" font-weight="normal" fill="#000" stroke="#000" stroke-width="0.18">25</text>
<line x1="30.5" y1="342.99" x2="34.5" y2="342.99" stroke="#2a2a2a" stroke-width="1.0"/>
<text x="29.5" y="346.04" font-size="8.5" text-anchor="end" font-weight="normal" fill="#000" stroke="#000" stroke-width="0.18">30</text>
<line x1="30.5" y1="327.2" x2="34.5" y2="327.2" stroke="#2a2a2a" stroke-width="1.0"/>
<text x="29.5" y="330.25" font-size="8.5" text-anchor="end" font-weight="normal" fill="#000" stroke="#000" stroke-width="0.18">35</text>
<line x1="46.25" y1="450.5" x2="220" y2="450.5" stroke="#404040" stroke-width="1.2"/>
<text x="11" y="381.8" font-size="8.4" text-anchor="middle" font-weight="normal" fill="#000" transform="rotate(-90 11 381.8)">IL-2 pc (%)</text>
<text x="75" y="461.8" font-size="8.5" text-anchor="middle" font-weight="normal" fill="#000" stroke="#000" stroke-width="0.18">0</text>
<line x1="56.25" y1="437.75" x2="94.5" y2="437.75" stroke="#454545" stroke-width="1.1"/>
<rect x="67.7" y="436.2" width="3.6" height="3.6" fill="#000"/>
<rect x="73.2" y="436.2" width="3.6" height="3.6" fill="#000"/>
<rect x="78.95" y="436.2" width="3.6" height="3.6" fill="#000"/>
<rect x="84.45" y="435.4" width="3.6" height="3.6" fill="#000"/>
<text x="133" y="461.8" font-size="8.5" text-anchor="middle" font-weight="normal" fill="#000" stroke="#000" stroke-width="0.18">1</text>
<line x1="113.75" y1="408.2" x2="152" y2="408.2" stroke="#454545" stroke-width="1.1"/>
<rect x="131.2" y="335.7" width="3.6" height="3.6" fill="#000"/>
<rect x="131.2" y="344.45" width="3.6" height="3.6" fill="#000"/>
<rect x="131.2" y="399.95" width="3.6" height="3.6" fill="#000"/>
<rect x="136.7" y="397.45" width="3.6" height="3.6" fill="#000"/>
<rect x="125.7" y="421.95" width="3.6" height="3.6" fill="#000"/>
<rect x="131.2" y="421.95" width="3.6" height="3.6" fill="#000"/>
<rect x="125.7" y="434.45" width="3.6" height="3.6" fill="#000"/>
<rect x="131.2" y="436.2" width="3.6" height="3.6" fill="#000"/>
<rect x="136.7" y="436.2" width="3.6" height="3.6" fill="#000"/>
<rect x="142.2" y="434.2" width="3.6" height="3.6" fill="#000"/>
<text x="190.6" y="461.8" font-size="8.5" text-anchor="middle" font-weight="normal" fill="#000" stroke="#000" stroke-width="0.18">2</text>
<line x1="171.25" y1="395.75" x2="210" y2="395.75" stroke="#454545" stroke-width="1.1"/>
<rect x="188.95" y="361.95" width="3.6" height="3.6" fill="#000"/>
<rect x="188.95" y="380.7" width="3.6" height="3.6" fill="#000"/>
<rect x="188.95" y="386.95" width="3.6" height="3.6" fill="#000"/>
<rect x="188.95" y="392.2" width="3.6" height="3.6" fill="#000"/>
<rect x="194.45" y="392.2" width="3.6" height="3.6" fill="#000"/>
<rect x="183.2" y="402.2" width="3.6" height="3.6" fill="#000"/>
<rect x="188.95" y="406.45" width="3.6" height="3.6" fill="#000"/>
<rect x="188.95" y="429.7" width="3.6" height="3.6" fill="#000"/>
<text x="132.6" y="483" font-size="8.25" text-anchor="middle" font-weight="normal" fill="#000" stroke="#000" stroke-width="0.18">MM HLA-DR</text>
<path d="M72 317.8H172.5V328.8M138.75 328.8H205.75" stroke="#333" stroke-width="1.25" fill="none"/>
<text x="119.4" y="316.8" font-size="14.6" text-anchor="middle" fill="#111" font-family='"Liberation Serif", "Times New Roman", serif'>*</text>
<line x1="279.5" y1="326.6" x2="279.5" y2="438.65" stroke="#2a2a2a" stroke-width="1.1"/>
<line x1="275.5" y1="437.75" x2="279.5" y2="437.75" stroke="#2a2a2a" stroke-width="1.0"/>
<text x="274.5" y="440.8" font-size="8.5" text-anchor="end" font-weight="normal" fill="#000" stroke="#000" stroke-width="0.18">0</text>
<line x1="275.5" y1="421.96" x2="279.5" y2="421.96" stroke="#2a2a2a" stroke-width="1.0"/>
<text x="274.5" y="425.01" font-size="8.5" text-anchor="end" font-weight="normal" fill="#000" stroke="#000" stroke-width="0.18">5</text>
<line x1="275.5" y1="406.16" x2="279.5" y2="406.16" stroke="#2a2a2a" stroke-width="1.0"/>
<text x="274.5" y="409.21" font-size="8.5" text-anchor="end" font-weight="normal" fill="#000" stroke="#000" stroke-width="0.18">10</text>
<line x1="275.5" y1="390.37" x2="279.5" y2="390.37" stroke="#2a2a2a" stroke-width="1.0"/>
<text x="274.5" y="393.42" font-size="8.5" text-anchor="end" font-weight="normal" fill="#000" stroke="#000" stroke-width="0.18">15</text>
<line x1="275.5" y1="374.58" x2="279.5" y2="374.58" stroke="#2a2a2a" stroke-width="1.0"/>
<text x="274.5" y="377.63" font-size="8.5" text-anchor="end" font-weight="normal" fill="#000" stroke="#000" stroke-width="0.18">20</text>
<line x1="275.5" y1="358.79" x2="279.5" y2="358.79" stroke="#2a2a2a" stroke-width="1.0"/>
<text x="274.5" y="361.84" font-size="8.5" text-anchor="end" font-weight="normal" fill="#000" stroke="#000" stroke-width="0.18">25</text>
<line x1="275.5" y1="342.99" x2="279.5" y2="342.99" stroke="#2a2a2a" stroke-width="1.0"/>
<text x="274.5" y="346.04" font-size="8.5" text-anchor="end" font-weight="normal" fill="#000" stroke="#000" stroke-width="0.18">30</text>
<line x1="275.5" y1="327.2" x2="279.5" y2="327.2" stroke="#2a2a2a" stroke-width="1.0"/>
<text x="274.5" y="330.25" font-size="8.5" text-anchor="end" font-weight="normal" fill="#000" stroke="#000" stroke-width="0.18">35</text>
<line x1="292" y1="450.5" x2="465.5" y2="450.5" stroke="#404040" stroke-width="1.2"/>
<text x="259" y="383" font-size="8.4" text-anchor="middle" font-weight="normal" fill="#000" transform="rotate(-90 259 383)">IFN-<tspan font-family="Liberation Serif, serif" font-style="italic" font-size="9.2">γ</tspan> pc (%)</text>
<text x="320.75" y="461.4" font-size="8.5" text-anchor="middle" font-weight="normal" fill="#000" stroke="#000" stroke-width="0.18">0</text>
<line x1="301.25" y1="436" x2="339.5" y2="436" stroke="#454545" stroke-width="1.1"/>
<rect x="313.2" y="433.7" width="3.6" height="3.6" fill="#000"/>
<rect x="318.95" y="436.2" width="3.6" height="3.6" fill="#000"/>
<rect x="324.45" y="436.2" width="3.6" height="3.6" fill="#000"/>
<rect x="330.2" y="430.7" width="3.6" height="3.6" fill="#000"/>
<text x="378.25" y="461.4" font-size="8.5" text-anchor="middle" font-weight="normal" fill="#000" stroke="#000" stroke-width="0.18">1</text>
<line x1="358.75" y1="430" x2="397.5" y2="430" stroke="#454545" stroke-width="1.1"/>
<rect x="376.45" y="410.2" width="3.6" height="3.6" fill="#000"/>
<rect x="376.45" y="417.7" width="3.6" height="3.6" fill="#000"/>
<rect x="370.95" y="425.7" width="3.6" height="3.6" fill="#000"/>
<rect x="381.95" y="425.7" width="3.6" height="3.6" fill="#000"/>
<rect x="376.45" y="429.95" width="3.6" height="3.6" fill="#000"/>
<rect x="365.2" y="431.95" width="3.6" height="3.6" fill="#000"/>
<rect x="370.95" y="434.7" width="3.6" height="3.6" fill="#000"/>
<rect x="387.7" y="433.7" width="3.6" height="3.6" fill="#000"/>
<rect x="376.45" y="436.2" width="3.6" height="3.6" fill="#000"/>
<rect x="381.95" y="436.2" width="3.6" height="3.6" fill="#000"/>
<text x="435.75" y="461.4" font-size="8.5" text-anchor="middle" font-weight="normal" fill="#000" stroke="#000" stroke-width="0.18">2</text>
<line x1="416.25" y1="419.25" x2="455.5" y2="419.25" stroke="#454545" stroke-width="1.1"/>
<rect x="428.45" y="405.2" width="3.6" height="3.6" fill="#000"/>
<rect x="433.95" y="408.95" width="3.6" height="3.6" fill="#000"/>
<rect x="433.95" y="414.95" width="3.6" height="3.6" fill="#000"/>
<rect x="439.7" y="413.7" width="3.6" height="3.6" fill="#000"/>
<rect x="439.7" y="418.7" width="3.6" height="3.6" fill="#000"/>
<rect x="428.45" y="421.2" width="3.6" height="3.6" fill="#000"/>
<rect x="433.95" y="421.2" width="3.6" height="3.6" fill="#000"/>
<rect x="433.95" y="434.7" width="3.6" height="3.6" fill="#000"/>
<text x="378.1" y="482.6" font-size="8.25" text-anchor="middle" font-weight="normal" fill="#000" stroke="#000" stroke-width="0.18">MM HLA-DR</text>
<path d="M309.5 317.8H409.5V328.8M375.75 328.8H442.5" stroke="#333" stroke-width="1.25" fill="none"/>
<text x="356.3" y="316.8" font-size="14.6" text-anchor="middle" fill="#111" font-family='"Liberation Serif", "Times New Roman", serif'>*</text>
<line x1="34.2" y1="520.2" x2="34.2" y2="633.7" stroke="#2a2a2a" stroke-width="1.1"/>
<line x1="30.2" y1="632.8" x2="34.2" y2="632.8" stroke="#2a2a2a" stroke-width="1.0"/>
<text x="29.2" y="635.85" font-size="8.5" text-anchor="end" font-weight="normal" fill="#000" stroke="#000" stroke-width="0.18">0</text>
<line x1="30.2" y1="616.8" x2="34.2" y2="616.8" stroke="#2a2a2a" stroke-width="1.0"/>
<text x="29.2" y="619.85" font-size="8.5" text-anchor="end" font-weight="normal" fill="#000" stroke="#000" stroke-width="0.18">5</text>
<line x1="30.2" y1="600.8" x2="34.2" y2="600.8" stroke="#2a2a2a" stroke-width="1.0"/>
<text x="29.2" y="603.85" font-size="8.5" text-anchor="end" font-weight="normal" fill="#000" stroke="#000" stroke-width="0.18">10</text>
<line x1="30.2" y1="584.8" x2="34.2" y2="584.8" stroke="#2a2a2a" stroke-width="1.0"/>
<text x="29.2" y="587.85" font-size="8.5" text-anchor="end" font-weight="normal" fill="#000" stroke="#000" stroke-width="0.18">15</text>
<line x1="30.2" y1="568.8" x2="34.2" y2="568.8" stroke="#2a2a2a" stroke-width="1.0"/>
<text x="29.2" y="571.85" font-size="8.5" text-anchor="end" font-weight="normal" fill="#000" stroke="#000" stroke-width="0.18">20</text>
<line x1="30.2" y1="552.8" x2="34.2" y2="552.8" stroke="#2a2a2a" stroke-width="1.0"/>
<text x="29.2" y="555.85" font-size="8.5" text-anchor="end" font-weight="normal" fill="#000" stroke="#000" stroke-width="0.18">25</text>
<line x1="30.2" y1="536.8" x2="34.2" y2="536.8" stroke="#2a2a2a" stroke-width="1.0"/>
<text x="29.2" y="539.85" font-size="8.5" text-anchor="end" font-weight="normal" fill="#000" stroke="#000" stroke-width="0.18">30</text>
<line x1="30.2" y1="520.8" x2="34.2" y2="520.8" stroke="#2a2a2a" stroke-width="1.0"/>
<text x="29.2" y="523.85" font-size="8.5" text-anchor="end" font-weight="normal" fill="#000" stroke="#000" stroke-width="0.18">35</text>
<line x1="46.25" y1="645.5" x2="222" y2="645.5" stroke="#404040" stroke-width="1.2"/>
<text x="11.8" y="577" font-size="8.8" text-anchor="middle" font-weight="normal" fill="#000" transform="rotate(-90 11.8 577)">IL-10 pc (%)</text>
<text x="75.5" y="656.8" font-size="8.5" text-anchor="middle" font-weight="normal" fill="#000" stroke="#000" stroke-width="0.18">0</text>
<line x1="56.25" y1="631.75" x2="95.5" y2="631.75" stroke="#454545" stroke-width="1.1"/>
<rect x="68.2" y="628.7" width="3.6" height="3.6" fill="#000"/>
<rect x="73.7" y="631.2" width="3.6" height="3.6" fill="#000"/>
<rect x="79.45" y="629.7" width="3.6" height="3.6" fill="#000"/>
<text x="134.25" y="656.8" font-size="8.5" text-anchor="middle" font-weight="normal" fill="#000" stroke="#000" stroke-width="0.18">1</text>
<line x1="114.5" y1="626.25" x2="153.75" y2="626.25" stroke="#454545" stroke-width="1.1"/>
<rect x="132.45" y="594.45" width="3.6" height="3.6" fill="#000"/>
<rect x="132.45" y="609.45" width="3.6" height="3.6" fill="#000"/>
<rect x="132.45" y="621.7" width="3.6" height="3.6" fill="#000"/>
<rect x="114.95" y="631.45" width="3.6" height="3.6" fill="#000"/>
<rect x="120.7" y="631.45" width="3.6" height="3.6" fill="#000"/>
<rect x="126.45" y="631.45" width="3.6" height="3.6" fill="#000"/>
<rect x="132.2" y="631.45" width="3.6" height="3.6" fill="#000"/>
<rect x="137.95" y="631.45" width="3.6" height="3.6" fill="#000"/>
<rect x="143.7" y="631.45" width="3.6" height="3.6" fill="#000"/>
<rect x="149.45" y="631.45" width="3.6" height="3.6" fill="#000"/>
<text x="192.5" y="656.8" font-size="8.5" text-anchor="middle" font-weight="normal" fill="#000" stroke="#000" stroke-width="0.18">2</text>
<line x1="173" y1="631.25" x2="212.5" y2="631.25" stroke="#454545" stroke-width="1.1"/>
<rect x="190.7" y="631.45" width="3.6" height="3.6" fill="#000"/>
<rect x="196.45" y="628.2" width="3.6" height="3.6" fill="#000"/>
<text x="133.5" y="675.5" font-size="8.25" text-anchor="middle" font-weight="normal" fill="#000" stroke="#000" stroke-width="0.18">MM HLA-DR</text>
<line x1="279.5" y1="521.2" x2="279.5" y2="633.9" stroke="#2a2a2a" stroke-width="1.1"/>
<line x1="275.5" y1="633" x2="279.5" y2="633" stroke="#2a2a2a" stroke-width="1.0"/>
<text x="274.5" y="636.05" font-size="8.5" text-anchor="end" font-weight="normal" fill="#000" stroke="#000" stroke-width="0.18">0</text>
<line x1="275.5" y1="617.11" x2="279.5" y2="617.11" stroke="#2a2a2a" stroke-width="1.0"/>
<text x="274.5" y="620.16" font-size="8.5" text-anchor="end" font-weight="normal" fill="#000" stroke="#000" stroke-width="0.18">5</text>
<line x1="275.5" y1="601.23" x2="279.5" y2="601.23" stroke="#2a2a2a" stroke-width="1.0"/>
<text x="274.5" y="604.28" font-size="8.5" text-anchor="end" font-weight="normal" fill="#000" stroke="#000" stroke-width="0.18">10</text>
<line x1="275.5" y1="585.34" x2="279.5" y2="585.34" stroke="#2a2a2a" stroke-width="1.0"/>
<text x="274.5" y="588.39" font-size="8.5" text-anchor="end" font-weight="normal" fill="#000" stroke="#000" stroke-width="0.18">15</text>
<line x1="275.5" y1="569.46" x2="279.5" y2="569.46" stroke="#2a2a2a" stroke-width="1.0"/>
<text x="274.5" y="572.51" font-size="8.5" text-anchor="end" font-weight="normal" fill="#000" stroke="#000" stroke-width="0.18">20</text>
<line x1="275.5" y1="553.57" x2="279.5" y2="553.57" stroke="#2a2a2a" stroke-width="1.0"/>
<text x="274.5" y="556.62" font-size="8.5" text-anchor="end" font-weight="normal" fill="#000" stroke="#000" stroke-width="0.18">25</text>
<line x1="275.5" y1="537.69" x2="279.5" y2="537.69" stroke="#2a2a2a" stroke-width="1.0"/>
<text x="274.5" y="540.74" font-size="8.5" text-anchor="end" font-weight="normal" fill="#000" stroke="#000" stroke-width="0.18">30</text>
<line x1="275.5" y1="521.8" x2="279.5" y2="521.8" stroke="#2a2a2a" stroke-width="1.0"/>
<text x="274.5" y="524.85" font-size="8.5" text-anchor="end" font-weight="normal" fill="#000" stroke="#000" stroke-width="0.18">35</text>
<line x1="292" y1="645.5" x2="465.5" y2="645.5" stroke="#404040" stroke-width="1.2"/>
<text x="258.3" y="577.5" font-size="8.8" text-anchor="middle" font-weight="normal" fill="#000" transform="rotate(-90 258.3 577.5)">IL-17 pc (%)</text>
<text x="320.75" y="656.8" font-size="8.5" text-anchor="middle" font-weight="normal" fill="#000" stroke="#000" stroke-width="0.18">0</text>
<line x1="301.25" y1="632.5" x2="340.5" y2="632.5" stroke="#454545" stroke-width="1.1"/>
<rect x="313.2" y="631.45" width="3.6" height="3.6" fill="#000"/>
<rect x="318.95" y="631.45" width="3.6" height="3.6" fill="#000"/>
<rect x="324.45" y="631.45" width="3.6" height="3.6" fill="#000"/>
<rect x="330.2" y="629.2" width="3.6" height="3.6" fill="#000"/>
<text x="379" y="656.8" font-size="8.5" text-anchor="middle" font-weight="normal" fill="#000" stroke="#000" stroke-width="0.18">1</text>
<line x1="360" y1="621.6" x2="398" y2="621.6" stroke="#454545" stroke-width="1.1"/>
<rect x="377.2" y="577.45" width="3.6" height="3.6" fill="#000"/>
<rect x="377.2" y="604.45" width="3.6" height="3.6" fill="#000"/>
<rect x="371.45" y="613.2" width="3.6" height="3.6" fill="#000"/>
<rect x="377.2" y="616.95" width="3.6" height="3.6" fill="#000"/>
<rect x="365.7" y="631.45" width="3.6" height="3.6" fill="#000"/>
<rect x="371.45" y="631.45" width="3.6" height="3.6" fill="#000"/>
<rect x="377.2" y="631.45" width="3.6" height="3.6" fill="#000"/>
<rect x="382.95" y="631.45" width="3.6" height="3.6" fill="#000"/>
<rect x="388.7" y="631.45" width="3.6" height="3.6" fill="#000"/>
<rect x="393.95" y="628.7" width="3.6" height="3.6" fill="#000"/>
<text x="437" y="656.8" font-size="8.5" text-anchor="middle" font-weight="normal" fill="#000" stroke="#000" stroke-width="0.18">2</text>
<line x1="417.5" y1="629.6" x2="456" y2="629.6" stroke="#454545" stroke-width="1.1"/>
<rect x="440.85" y="621.2" width="3.6" height="3.6" fill="#000"/>
<rect x="429.5" y="624.9" width="3.6" height="3.6" fill="#000"/>
<rect x="435.1" y="625.85" width="3.6" height="3.6" fill="#000"/>
<rect x="424" y="627.8" width="3.6" height="3.6" fill="#000"/>
<rect x="446.3" y="629.2" width="3.6" height="3.6" fill="#000"/>
<rect x="429.5" y="631.6" width="3.6" height="3.6" fill="#000"/>
<rect x="435.1" y="631.6" width="3.6" height="3.6" fill="#000"/>
<rect x="440.85" y="631.6" width="3.6" height="3.6" fill="#000"/>
<text x="378.1" y="675.5" font-size="8.25" text-anchor="middle" font-weight="normal" fill="#000" stroke="#000" stroke-width="0.18">MM HLA-DR</text>
<path d="M309.5 527.3H409.5V538.3M375.75 538.3H442.5" stroke="#333" stroke-width="1.25" fill="none"/>
<text x="356.3" y="526.3" font-size="14.6" text-anchor="middle" fill="#111" font-family='"Liberation Serif", "Times New Roman", serif'>*</text>
</svg>
</body></html>
